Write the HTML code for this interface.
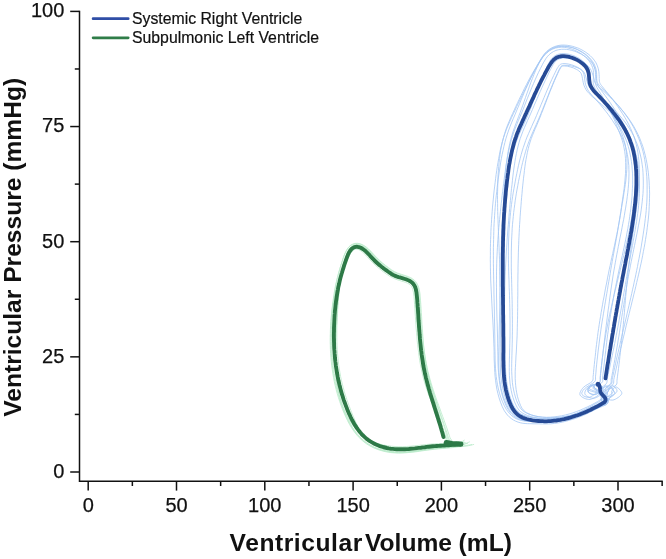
<!DOCTYPE html>
<html><head><meta charset="utf-8"><title>Ventricular Pressure-Volume Loops</title>
<style>html,body{margin:0;padding:0;background:#fff;}body{width:666px;height:559px;overflow:hidden;}</style></head>
<body>
<svg width="666" height="559" viewBox="0 0 666 559" style="display:block">
<rect width="666" height="559" fill="#fff"/>
<g fill="none" stroke="#a3c7f4" stroke-width="0.8" stroke-linejoin="round" stroke-linecap="round">
<path d="M607.3,398.7C607.1,399.4 606.9,401.9 606.4,402.9C605.8,403.9 604.9,404.1 603.9,404.7C602.9,405.4 601.6,406.1 600.4,406.8C599.3,407.4 598.1,408.1 596.9,408.7C595.7,409.4 594.5,410.0 593.3,410.6C592.1,411.2 590.9,411.8 589.7,412.4C588.5,413.0 587.3,413.6 586.0,414.2C584.8,414.7 583.5,415.3 582.3,415.8C581.0,416.3 579.8,416.8 578.5,417.3C577.2,417.8 575.9,418.2 574.6,418.7C573.4,419.1 572.1,419.5 570.7,419.9C569.4,420.3 568.1,420.7 566.8,421.0C565.5,421.4 564.2,421.7 562.8,422.0C561.5,422.3 560.1,422.5 558.8,422.8C557.4,423.0 556.1,423.2 554.7,423.4C553.4,423.5 552.0,423.7 550.6,423.8C549.3,423.9 547.9,423.9 546.5,423.9C545.2,424.0 543.8,423.9 542.4,423.9C541.0,423.9 539.6,423.8 538.2,423.8C536.8,423.8 535.4,423.8 534.0,423.8C532.6,423.8 531.1,423.8 529.7,423.7C528.2,423.7 526.7,423.7 525.1,423.5C523.6,423.4 522.0,423.2 520.5,422.8C518.9,422.4 517.2,421.9 515.7,421.2C514.2,420.5 512.6,419.6 511.2,418.5C509.8,417.5 508.5,416.2 507.4,415.0C506.3,413.7 505.3,412.3 504.4,410.9C503.6,409.5 502.9,408.0 502.2,406.5C501.6,405.1 501.0,403.6 500.5,402.2C500.0,400.7 499.5,399.3 499.1,397.9C498.6,396.4 498.2,395.0 497.9,393.6C497.5,392.1 497.2,390.7 496.9,389.3C496.6,387.9 496.4,386.4 496.2,385.0C495.9,383.6 495.7,382.2 495.6,380.8C495.4,379.4 495.2,377.9 495.1,376.5C495.0,375.1 494.9,373.7 494.8,372.4C494.7,371.0 494.6,369.6 494.5,368.2C494.5,366.8 494.4,365.4 494.4,364.1C494.3,362.7 494.3,361.3 494.2,360.0C494.2,358.6 494.2,357.3 494.1,355.9C494.1,354.6 494.1,353.2 494.1,351.9C494.0,350.6 494.0,349.2 494.0,347.9C493.9,346.6 493.9,345.3 493.8,343.9C493.8,342.6 493.8,341.3 493.7,340.0C493.7,338.6 493.6,337.3 493.5,336.0C493.5,334.7 493.4,333.3 493.4,332.0C493.3,330.7 493.2,329.3 493.2,328.0C493.1,326.7 493.0,325.4 493.0,324.0C492.9,322.7 492.8,321.4 492.8,320.0C492.7,318.7 492.6,317.4 492.5,316.0C492.5,314.7 492.4,313.4 492.3,312.0C492.3,310.7 492.2,309.4 492.1,308.0C492.0,306.7 492.0,305.4 491.9,304.0C491.8,302.7 491.7,301.4 491.7,300.0C491.6,298.7 491.5,297.4 491.5,296.0C491.4,294.7 491.3,293.3 491.3,292.0C491.2,290.7 491.1,289.3 491.1,288.0C491.0,286.7 491.0,285.3 490.9,284.0C490.8,282.6 490.8,281.3 490.7,280.0C490.7,278.6 490.7,277.3 490.6,275.9C490.6,274.6 490.5,273.2 490.5,271.9C490.5,270.6 490.5,269.2 490.4,267.9C490.4,266.5 490.4,265.2 490.4,263.8C490.4,262.5 490.4,261.1 490.3,259.8C490.3,258.4 490.3,257.1 490.4,255.8C490.4,254.4 490.4,253.1 490.4,251.7C490.4,250.4 490.4,249.0 490.4,247.7C490.5,246.3 490.5,245.0 490.5,243.6C490.6,242.3 490.6,240.9 490.6,239.6C490.7,238.2 490.7,236.9 490.8,235.5C490.8,234.2 490.9,232.8 490.9,231.5C491.0,230.1 491.1,228.8 491.1,227.4C491.2,226.1 491.3,224.7 491.4,223.4C491.5,222.0 491.5,220.7 491.6,219.3C491.7,218.0 491.8,216.6 491.9,215.3C492.0,213.9 492.1,212.5 492.2,211.2C492.3,209.8 492.4,208.5 492.5,207.1C492.7,205.8 492.8,204.4 492.9,203.1C493.0,201.7 493.1,200.4 493.3,199.0C493.4,197.7 493.5,196.3 493.7,195.0C493.8,193.6 494.0,192.3 494.1,190.9C494.3,189.6 494.4,188.2 494.6,186.9C494.7,185.5 494.9,184.1 495.1,182.8C495.2,181.4 495.4,180.1 495.6,178.7C495.7,177.4 495.9,176.0 496.1,174.7C496.3,173.3 496.5,172.0 496.7,170.6C496.9,169.3 497.1,167.9 497.3,166.5C497.5,165.2 497.7,163.8 498.0,162.4C498.2,161.1 498.4,159.7 498.7,158.3C498.9,156.9 499.2,155.6 499.5,154.2C499.7,152.8 500.0,151.4 500.3,150.0C500.7,148.6 501.0,147.2 501.3,145.9C501.7,144.5 502.0,143.1 502.4,141.7C502.8,140.3 503.2,138.9 503.6,137.5C504.1,136.1 504.5,134.7 505.0,133.4C505.5,132.0 506.0,130.6 506.5,129.2C507.1,127.9 507.6,126.5 508.2,125.2C508.7,123.9 509.3,122.6 509.9,121.3C510.4,120.0 511.0,118.8 511.6,117.5C512.2,116.3 512.8,115.0 513.3,113.8C513.9,112.6 514.5,111.4 515.1,110.2C515.6,109.0 516.2,107.8 516.7,106.6C517.3,105.4 517.9,104.2 518.4,103.0C519.0,101.9 519.6,100.7 520.2,99.5C520.7,98.3 521.3,97.1 521.9,95.9C522.5,94.7 523.0,93.5 523.6,92.3C524.2,91.1 524.8,89.9 525.4,88.7C526.0,87.5 526.6,86.3 527.2,85.1C527.8,83.8 528.4,82.6 529.0,81.4C529.7,80.2 530.3,79.0 530.9,77.8C531.6,76.6 532.2,75.4 532.9,74.1C533.5,72.9 534.2,71.7 534.9,70.5C535.6,69.2 536.3,68.0 537.0,66.8C537.7,65.5 538.4,64.3 539.1,63.0C539.9,61.7 540.7,60.4 541.6,59.0C542.5,57.6 543.5,56.1 544.8,54.7C546.0,53.3 547.5,51.8 549.2,50.6C550.9,49.4 553.0,48.3 555.0,47.6C557.1,46.9 559.2,46.6 561.2,46.4C563.2,46.3 565.2,46.4 567.1,46.6C569.0,46.9 570.8,47.3 572.5,47.8C574.3,48.4 576.0,49.0 577.6,49.8C579.2,50.6 580.8,51.5 582.3,52.5C583.8,53.5 585.3,54.5 586.6,55.7C587.9,56.9 589.2,58.2 590.3,59.6C591.5,61.1 592.6,62.7 593.4,64.4C594.2,66.0 594.7,68.0 595.1,69.7C595.4,71.4 595.4,73.2 595.5,74.7C595.5,76.3 595.3,77.7 595.3,78.9C595.2,80.2 595.1,81.2 595.2,82.1C595.3,83.1 595.4,83.8 595.7,84.7C596.0,85.6 596.4,86.5 596.9,87.5C597.4,88.4 598.0,89.5 598.7,90.5C599.3,91.6 600.1,92.8 600.8,93.9C601.5,95.0 602.2,96.2 602.9,97.4C603.6,98.6 604.3,99.8 605.0,101.0C605.7,102.2 606.4,103.5 607.0,104.7C607.7,105.9 608.3,107.1 608.9,108.4C609.6,109.6 610.2,110.9 610.8,112.1C611.4,113.4 612.0,114.6 612.5,115.8C613.1,117.1 613.6,118.3 614.2,119.6C614.7,120.8 615.2,122.0 615.8,123.3C616.3,124.5 616.8,125.7 617.2,126.9C617.7,128.1 618.2,129.3 618.7,130.5C619.1,131.7 619.6,132.9 620.0,134.0C620.4,135.2 620.9,136.3 621.3,137.5C621.7,138.6 622.1,139.8 622.4,140.9C622.8,142.1 623.1,143.2 623.4,144.4C623.6,145.6 623.9,146.7 624.1,147.9C624.3,149.1 624.5,150.3 624.7,151.5C624.9,152.7 625.0,153.9 625.2,155.1C625.3,156.2 625.4,157.5 625.5,158.7C625.5,159.9 625.6,161.1 625.6,162.3C625.7,163.5 625.7,164.7 625.7,166.0C625.7,167.2 625.7,168.4 625.6,169.7C625.6,170.9 625.5,172.1 625.5,173.4C625.4,174.6 625.3,175.9 625.2,177.1C625.1,178.4 625.0,179.6 624.9,180.9C624.8,182.1 624.6,183.4 624.5,184.7C624.4,185.9 624.2,187.2 624.1,188.5C623.9,189.7 623.7,191.0 623.6,192.3C623.4,193.5 623.2,194.8 623.0,196.1C622.9,197.4 622.7,198.6 622.5,199.9C622.3,201.2 622.1,202.5 621.9,203.7C621.7,205.0 621.5,206.3 621.4,207.6C621.2,208.9 621.0,210.1 620.8,211.4C620.6,212.7 620.4,214.0 620.2,215.2C620.0,216.5 619.8,217.8 619.6,219.1C619.4,220.3 619.2,221.6 619.0,222.9C618.8,224.2 618.6,225.5 618.4,226.7C618.2,228.0 617.9,229.3 617.7,230.6C617.5,231.9 617.3,233.1 617.1,234.4C616.8,235.7 616.6,237.0 616.4,238.3C616.2,239.6 615.9,240.9 615.7,242.1C615.5,243.4 615.2,244.7 615.0,246.0C614.8,247.3 614.6,248.6 614.3,249.9C614.1,251.2 613.9,252.5 613.6,253.8C613.4,255.1 613.2,256.4 612.9,257.7C612.7,259.0 612.5,260.3 612.2,261.6C612.0,262.9 611.8,264.2 611.5,265.6C611.3,266.9 611.1,268.2 610.8,269.5C610.6,270.8 610.4,272.1 610.2,273.5C609.9,274.8 609.7,276.1 609.5,277.4C609.2,278.7 609.0,280.1 608.8,281.4C608.6,282.7 608.4,284.0 608.1,285.4C607.9,286.7 607.7,288.0 607.5,289.3C607.2,290.6 607.0,292.0 606.8,293.3C606.6,294.6 606.4,295.9 606.1,297.3C605.9,298.6 605.7,299.9 605.5,301.2C605.3,302.6 605.0,303.9 604.8,305.2C604.6,306.5 604.4,307.9 604.2,309.2C604.0,310.5 603.7,311.8 603.5,313.2C603.3,314.5 603.1,315.8 602.9,317.1C602.7,318.5 602.5,319.8 602.2,321.1C602.0,322.4 601.8,323.8 601.6,325.1C601.4,326.4 601.2,327.7 601.0,329.1C600.8,330.4 600.7,331.7 600.5,333.0C600.3,334.4 600.1,335.7 599.9,337.0C599.7,338.4 599.6,339.7 599.4,341.0C599.2,342.3 599.0,343.7 598.9,345.0C598.7,346.3 598.5,347.6 598.4,349.0C598.2,350.3 598.1,351.6 597.9,353.0C597.8,354.3 597.6,355.6 597.5,356.9C597.3,358.3 597.2,359.6 597.0,360.9C596.9,362.3 596.8,363.6 596.6,364.9C596.5,366.2 596.4,367.6 596.2,368.9C596.1,370.2 596.0,371.5 595.9,372.9C595.7,374.2 595.7,375.3 595.5,376.8C595.3,378.3 596.3,379.9 594.5,381.8C592.6,383.8 586.5,386.6 584.4,388.8C582.3,390.9 581.2,393.1 582.0,394.5C582.8,395.9 586.7,397.8 589.2,397.3C591.6,396.8 596.3,393.4 596.8,391.5C597.2,389.6 593.4,386.0 592.0,385.8C590.6,385.5 587.0,388.4 588.2,389.8C589.4,391.1 596.0,392.2 599.2,393.7C602.4,395.2 606.1,397.2 607.3,398.7C608.5,400.2 606.9,401.9 606.4,402.9C605.8,403.9 604.3,404.4 603.9,404.7"/>
<path d="M605.2,398.3C605.1,398.9 604.8,401.1 604.4,401.9C604.0,402.6 603.6,402.3 602.7,402.8C601.9,403.2 600.4,404.0 599.2,404.6C598.1,405.2 596.9,405.9 595.7,406.4C594.5,407.0 593.3,407.6 592.1,408.2C590.9,408.7 589.7,409.3 588.5,409.8C587.3,410.4 586.1,410.9 584.8,411.4C583.6,411.9 582.4,412.4 581.1,412.9C579.9,413.4 578.7,413.8 577.4,414.3C576.2,414.7 574.9,415.2 573.6,415.6C572.4,416.0 571.1,416.4 569.8,416.8C568.6,417.1 567.3,417.5 566.0,417.8C564.7,418.1 563.5,418.5 562.2,418.7C560.9,419.0 559.6,419.3 558.3,419.5C557.0,419.8 555.7,420.0 554.4,420.2C553.1,420.4 551.8,420.6 550.4,420.7C549.1,420.8 547.8,421.0 546.5,421.0C545.1,421.1 543.8,421.2 542.5,421.2C541.1,421.3 539.8,421.3 538.4,421.3C537.1,421.3 535.7,421.3 534.3,421.4C533.0,421.4 531.6,421.4 530.1,421.4C528.7,421.3 527.3,421.3 525.8,421.2C524.4,421.0 522.9,420.9 521.5,420.5C520.0,420.2 518.5,419.7 517.1,419.1C515.7,418.5 514.3,417.7 513.0,416.7C511.7,415.8 510.5,414.7 509.5,413.5C508.4,412.3 507.4,411.0 506.5,409.7C505.7,408.4 505.0,407.0 504.3,405.7C503.6,404.3 503.0,402.9 502.4,401.5C501.8,400.1 501.3,398.7 500.8,397.4C500.4,396.0 499.9,394.6 499.5,393.2C499.1,391.8 498.7,390.4 498.4,389.0C498.1,387.6 497.8,386.2 497.5,384.8C497.2,383.4 497.0,382.0 496.8,380.6C496.6,379.2 496.4,377.8 496.2,376.5C496.1,375.1 495.9,373.7 495.8,372.3C495.7,370.9 495.6,369.5 495.5,368.2C495.4,366.8 495.3,365.4 495.3,364.0C495.2,362.7 495.2,361.3 495.1,360.0C495.1,358.6 495.1,357.3 495.1,355.9C495.0,354.6 495.0,353.2 495.0,351.9C495.0,350.6 495.0,349.2 494.9,347.9C494.9,346.6 494.9,345.3 494.9,343.9C494.9,342.6 494.9,341.3 494.8,340.0C494.8,338.6 494.8,337.3 494.8,336.0C494.8,334.6 494.7,333.3 494.7,332.0C494.7,330.7 494.7,329.3 494.7,328.0C494.6,326.7 494.6,325.3 494.6,324.0C494.6,322.7 494.5,321.3 494.5,320.0C494.5,318.7 494.5,317.4 494.4,316.0C494.4,314.7 494.4,313.4 494.4,312.0C494.3,310.7 494.3,309.4 494.3,308.0C494.3,306.7 494.2,305.3 494.2,304.0C494.2,302.7 494.1,301.3 494.1,300.0C494.1,298.7 494.1,297.3 494.0,296.0C494.0,294.7 494.0,293.3 493.9,292.0C493.9,290.6 493.9,289.3 493.9,288.0C493.8,286.6 493.8,285.3 493.8,284.0C493.7,282.6 493.7,281.3 493.7,279.9C493.7,278.6 493.6,277.3 493.6,275.9C493.6,274.6 493.6,273.2 493.5,271.9C493.5,270.5 493.5,269.2 493.5,267.9C493.5,266.5 493.5,265.2 493.4,263.8C493.4,262.5 493.4,261.2 493.4,259.8C493.4,258.5 493.4,257.1 493.4,255.8C493.4,254.4 493.4,253.1 493.4,251.7C493.4,250.4 493.4,249.1 493.4,247.7C493.4,246.4 493.5,245.0 493.5,243.7C493.5,242.3 493.5,241.0 493.6,239.6C493.6,238.3 493.6,236.9 493.7,235.6C493.7,234.3 493.7,232.9 493.8,231.6C493.8,230.2 493.9,228.9 493.9,227.5C494.0,226.2 494.1,224.8 494.1,223.5C494.2,222.1 494.3,220.8 494.4,219.4C494.4,218.1 494.5,216.7 494.6,215.4C494.7,214.1 494.8,212.7 494.9,211.4C495.0,210.0 495.1,208.7 495.2,207.3C495.3,206.0 495.4,204.6 495.5,203.3C495.7,201.9 495.8,200.6 495.9,199.2C496.0,197.9 496.2,196.6 496.3,195.2C496.5,193.9 496.6,192.5 496.8,191.2C496.9,189.8 497.1,188.5 497.2,187.1C497.4,185.8 497.6,184.4 497.7,183.1C497.9,181.7 498.1,180.4 498.2,179.1C498.4,177.7 498.6,176.4 498.8,175.0C499.0,173.7 499.2,172.3 499.4,171.0C499.6,169.6 499.8,168.3 500.0,166.9C500.2,165.6 500.4,164.2 500.6,162.9C500.9,161.5 501.1,160.2 501.3,158.8C501.6,157.4 501.8,156.1 502.1,154.7C502.4,153.3 502.7,152.0 503.0,150.6C503.3,149.2 503.6,147.9 503.9,146.5C504.2,145.1 504.5,143.7 504.9,142.4C505.3,141.0 505.6,139.6 506.0,138.3C506.4,136.9 506.9,135.5 507.3,134.2C507.8,132.8 508.2,131.4 508.7,130.1C509.2,128.7 509.7,127.4 510.2,126.1C510.7,124.7 511.2,123.4 511.8,122.1C512.3,120.9 512.8,119.6 513.4,118.3C513.9,117.0 514.4,115.8 515.0,114.6C515.5,113.3 516.0,112.1 516.5,110.9C517.0,109.7 517.5,108.4 518.1,107.2C518.6,106.0 519.1,104.8 519.6,103.6C520.1,102.3 520.6,101.1 521.1,99.9C521.6,98.7 522.1,97.5 522.7,96.2C523.2,95.0 523.7,93.8 524.2,92.6C524.8,91.3 525.3,90.1 525.8,88.9C526.4,87.6 526.9,86.4 527.5,85.2C528.0,84.0 528.6,82.7 529.2,81.5C529.7,80.2 530.3,79.0 530.9,77.8C531.5,76.5 532.1,75.3 532.7,74.1C533.3,72.8 534.0,71.6 534.6,70.3C535.3,69.1 535.9,67.9 536.6,66.6C537.3,65.3 538.0,64.1 538.7,62.8C539.5,61.5 540.2,60.1 541.2,58.7C542.1,57.3 543.1,55.8 544.4,54.4C545.6,52.9 547.1,51.4 548.9,50.2C550.7,48.9 552.8,47.8 554.9,47.1C556.9,46.4 559.2,46.1 561.2,46.0C563.3,45.9 565.2,46.1 567.1,46.3C569.0,46.6 570.8,47.1 572.6,47.6C574.3,48.1 576.0,48.8 577.7,49.6C579.4,50.3 581.0,51.2 582.5,52.2C584.0,53.1 585.5,54.2 586.9,55.3C588.3,56.5 589.6,57.7 590.8,59.2C592.0,60.6 593.2,62.2 594.1,63.9C595.0,65.6 595.6,67.6 596.1,69.4C596.5,71.2 596.6,73.0 596.7,74.6C596.8,76.1 596.7,77.6 596.7,78.8C596.7,80.0 596.6,80.9 596.7,81.7C596.8,82.6 596.9,83.2 597.2,83.9C597.5,84.7 597.9,85.4 598.4,86.3C598.9,87.1 599.6,88.1 600.3,89.1C601.0,90.0 601.8,91.1 602.6,92.2C603.4,93.2 604.2,94.3 605.0,95.4C605.9,96.5 606.7,97.7 607.5,98.8C608.3,99.9 609.1,101.0 609.9,102.2C610.6,103.3 611.4,104.5 612.2,105.6C613.0,106.8 613.7,107.9 614.5,109.1C615.3,110.2 616.0,111.4 616.7,112.6C617.5,113.8 618.2,114.9 618.9,116.1C619.6,117.3 620.4,118.5 621.0,119.6C621.7,120.8 622.4,122.0 623.1,123.2C623.8,124.4 624.4,125.6 625.1,126.7C625.7,127.9 626.3,129.1 627.0,130.3C627.6,131.5 628.2,132.7 628.8,133.9C629.4,135.1 629.9,136.4 630.5,137.6C631.0,138.8 631.5,140.1 632.0,141.3C632.5,142.5 632.9,143.8 633.4,145.1C633.8,146.3 634.2,147.6 634.6,148.9C635.0,150.2 635.3,151.5 635.6,152.8C636.0,154.1 636.3,155.4 636.6,156.7C636.9,158.0 637.1,159.3 637.4,160.6C637.6,162.0 637.8,163.3 638.0,164.6C638.2,166.0 638.4,167.3 638.5,168.7C638.7,170.0 638.8,171.4 639.0,172.8C639.1,174.1 639.2,175.5 639.2,176.8C639.3,178.2 639.4,179.6 639.4,180.9C639.5,182.3 639.5,183.7 639.5,185.0C639.5,186.4 639.5,187.8 639.5,189.2C639.5,190.5 639.4,191.9 639.4,193.3C639.3,194.6 639.3,196.0 639.2,197.4C639.1,198.7 639.0,200.1 638.9,201.5C638.8,202.8 638.7,204.2 638.6,205.5C638.4,206.9 638.3,208.2 638.2,209.6C638.0,210.9 637.8,212.2 637.7,213.6C637.5,214.9 637.3,216.3 637.1,217.6C636.9,218.9 636.8,220.2 636.6,221.6C636.4,222.9 636.1,224.2 635.9,225.5C635.7,226.9 635.5,228.2 635.3,229.5C635.1,230.8 634.9,232.1 634.6,233.5C634.4,234.8 634.2,236.1 633.9,237.4C633.7,238.7 633.5,240.0 633.2,241.3C633.0,242.7 632.8,244.0 632.5,245.3C632.3,246.6 632.0,247.9 631.8,249.2C631.5,250.5 631.3,251.8 631.1,253.1C630.8,254.4 630.6,255.7 630.3,257.0C630.1,258.3 629.8,259.6 629.6,260.9C629.4,262.2 629.1,263.5 628.9,264.9C628.6,266.2 628.4,267.5 628.2,268.8C627.9,270.1 627.7,271.4 627.4,272.7C627.2,274.0 627.0,275.3 626.7,276.6C626.5,277.9 626.3,279.2 626.0,280.5C625.8,281.8 625.6,283.2 625.4,284.5C625.1,285.8 624.9,287.1 624.7,288.4C624.4,289.7 624.2,291.0 624.0,292.3C623.8,293.6 623.5,295.0 623.3,296.3C623.1,297.6 622.9,298.9 622.6,300.2C622.4,301.5 622.2,302.8 622.0,304.2C621.7,305.5 621.5,306.8 621.3,308.1C621.0,309.4 620.8,310.7 620.6,312.0C620.3,313.4 620.1,314.7 619.9,316.0C619.6,317.3 619.4,318.6 619.2,319.9C618.9,321.2 618.7,322.5 618.5,323.9C618.2,325.2 618.0,326.5 617.7,327.8C617.5,329.1 617.2,330.4 617.0,331.7C616.7,333.0 616.5,334.4 616.2,335.7C616.0,337.0 615.7,338.3 615.5,339.6C615.2,340.9 614.9,342.2 614.7,343.5C614.4,344.8 614.2,346.1 613.9,347.4C613.6,348.7 613.4,350.0 613.1,351.3C612.8,352.7 612.5,354.0 612.3,355.3C612.0,356.6 611.7,357.9 611.4,359.2C611.2,360.5 610.9,361.8 610.6,363.1C610.3,364.4 610.1,365.7 609.8,367.0C609.5,368.3 609.2,369.6 608.9,370.9C608.7,372.2 608.4,373.5 608.1,374.8C607.8,376.1 607.6,377.2 607.3,378.7C607.0,380.2 607.4,382.0 606.3,383.7C605.1,385.3 601.6,387.1 600.4,388.7C599.1,390.2 598.2,392.0 598.7,393.0C599.3,393.9 602.0,395.1 603.7,394.6C605.4,394.1 608.6,391.4 608.9,390.0C609.3,388.5 606.7,385.7 605.6,385.7C604.6,385.6 602.7,388.4 602.7,389.7C602.6,391.0 605.0,392.1 605.4,393.5C605.9,394.9 605.4,396.9 605.2,398.3C605.1,399.7 604.8,401.1 604.4,401.9C604.0,402.6 603.0,402.6 602.7,402.8"/>
<path d="M602.3,397.7C602.2,398.2 602.0,400.1 601.9,400.5C601.7,401.0 602.0,400.1 601.3,400.4C600.7,400.7 599.1,401.7 598.0,402.4C596.8,403.0 595.7,403.7 594.6,404.3C593.4,405.0 592.3,405.6 591.2,406.2C590.0,406.8 588.8,407.5 587.7,408.1C586.5,408.7 585.3,409.2 584.2,409.8C583.0,410.4 581.8,411.0 580.6,411.5C579.4,412.0 578.2,412.6 577.0,413.1C575.8,413.6 574.5,414.1 573.3,414.6C572.1,415.0 570.9,415.5 569.6,415.9C568.4,416.4 567.1,416.8 565.9,417.2C564.6,417.6 563.3,417.9 562.1,418.3C560.8,418.6 559.5,419.0 558.2,419.2C557.0,419.5 555.7,419.8 554.4,420.0C553.1,420.3 551.8,420.5 550.4,420.7C549.1,420.9 547.8,421.0 546.5,421.1C545.1,421.2 543.8,421.3 542.5,421.4C541.1,421.4 539.8,421.4 538.4,421.5C537.1,421.5 535.7,421.5 534.3,421.5C532.9,421.5 531.5,421.4 530.1,421.3C528.7,421.3 527.3,421.2 525.9,420.9C524.5,420.7 523.1,420.5 521.7,420.1C520.3,419.7 518.8,419.2 517.5,418.5C516.2,417.8 514.9,417.0 513.7,416.0C512.5,415.1 511.4,413.9 510.5,412.8C509.5,411.6 508.6,410.3 507.8,409.0C507.1,407.7 506.4,406.4 505.8,405.0C505.2,403.7 504.6,402.3 504.1,400.9C503.6,399.5 503.2,398.2 502.7,396.8C502.3,395.4 501.9,394.1 501.6,392.7C501.2,391.3 500.9,390.0 500.6,388.6C500.3,387.2 500.1,385.8 499.9,384.5C499.6,383.1 499.4,381.7 499.3,380.4C499.1,379.0 498.9,377.6 498.8,376.2C498.7,374.9 498.6,373.5 498.5,372.2C498.4,370.8 498.3,369.4 498.2,368.1C498.1,366.7 498.1,365.4 498.0,364.0C498.0,362.6 498.0,361.3 497.9,360.0C497.9,358.6 497.9,357.3 497.9,355.9C497.8,354.6 497.8,353.2 497.8,351.9C497.8,350.6 497.7,349.3 497.7,347.9C497.7,346.6 497.7,345.3 497.6,343.9C497.6,342.6 497.6,341.3 497.6,340.0C497.5,338.6 497.5,337.3 497.5,336.0C497.4,334.6 497.4,333.3 497.4,332.0C497.3,330.6 497.3,329.3 497.3,328.0C497.2,326.6 497.2,325.3 497.2,324.0C497.1,322.7 497.1,321.3 497.0,320.0C497.0,318.7 497.0,317.3 496.9,316.0C496.9,314.7 496.9,313.3 496.8,312.0C496.8,310.7 496.8,309.3 496.7,308.0C496.7,306.7 496.7,305.3 496.7,304.0C496.6,302.6 496.6,301.3 496.6,300.0C496.6,298.6 496.5,297.3 496.5,296.0C496.5,294.6 496.5,293.3 496.5,292.0C496.5,290.6 496.5,289.3 496.5,287.9C496.4,286.6 496.4,285.3 496.4,283.9C496.4,282.6 496.4,281.3 496.5,279.9C496.5,278.6 496.5,277.2 496.5,275.9C496.5,274.6 496.5,273.2 496.5,271.9C496.6,270.5 496.6,269.2 496.6,267.9C496.6,266.5 496.7,265.2 496.7,263.8C496.7,262.5 496.8,261.2 496.8,259.8C496.9,258.5 496.9,257.2 497.0,255.8C497.0,254.5 497.1,253.1 497.2,251.8C497.2,250.5 497.3,249.1 497.4,247.8C497.5,246.4 497.5,245.1 497.6,243.8C497.7,242.4 497.8,241.1 497.9,239.7C498.0,238.4 498.1,237.1 498.2,235.7C498.3,234.4 498.4,233.1 498.5,231.7C498.6,230.4 498.7,229.1 498.8,227.7C499.0,226.4 499.1,225.0 499.2,223.7C499.3,222.4 499.5,221.0 499.6,219.7C499.7,218.4 499.8,217.0 500.0,215.7C500.1,214.4 500.2,213.0 500.4,211.7C500.5,210.4 500.7,209.0 500.8,207.7C500.9,206.4 501.1,205.0 501.2,203.7C501.4,202.4 501.5,201.0 501.7,199.7C501.8,198.4 502.0,197.1 502.1,195.7C502.3,194.4 502.4,193.1 502.6,191.7C502.8,190.4 502.9,189.1 503.1,187.7C503.3,186.4 503.4,185.1 503.6,183.8C503.8,182.4 503.9,181.1 504.1,179.8C504.3,178.4 504.4,177.1 504.6,175.8C504.8,174.4 505.0,173.1 505.2,171.8C505.4,170.5 505.5,169.1 505.7,167.8C505.9,166.5 506.1,165.1 506.3,163.8C506.5,162.5 506.8,161.1 507.0,159.8C507.2,158.5 507.4,157.1 507.7,155.8C507.9,154.5 508.2,153.1 508.5,151.8C508.7,150.5 509.0,149.2 509.3,147.8C509.6,146.5 509.9,145.2 510.3,143.9C510.6,142.5 511.0,141.2 511.3,139.9C511.7,138.6 512.1,137.3 512.5,136.0C512.9,134.6 513.4,133.3 513.8,132.0C514.3,130.7 514.8,129.5 515.3,128.2C515.8,126.9 516.3,125.6 516.8,124.4C517.3,123.1 517.9,121.8 518.4,120.6C518.9,119.3 519.4,118.1 519.9,116.9C520.5,115.6 521.0,114.4 521.5,113.2C522.0,111.9 522.5,110.7 523.0,109.5C523.5,108.2 524.0,107.0 524.5,105.8C524.9,104.5 525.4,103.3 525.9,102.1C526.4,100.9 526.9,99.6 527.4,98.4C527.9,97.2 528.4,95.9 528.9,94.7C529.4,93.5 529.9,92.2 530.4,91.0C530.9,89.8 531.4,88.5 531.9,87.3C532.4,86.1 533.0,84.8 533.5,83.6C534.0,82.3 534.6,81.1 535.1,79.9C535.7,78.6 536.2,77.4 536.8,76.1C537.4,74.9 537.9,73.6 538.5,72.4C539.1,71.1 539.7,69.9 540.4,68.6C541.0,67.4 541.6,66.1 542.3,64.8C543.0,63.5 543.6,62.2 544.5,60.9C545.3,59.5 546.1,58.1 547.2,56.8C548.3,55.5 549.6,54.1 551.0,53.1C552.5,52.0 554.3,51.0 556.0,50.4C557.7,49.8 559.7,49.5 561.4,49.3C563.2,49.1 565.0,49.3 566.7,49.4C568.5,49.6 570.2,50.0 571.8,50.4C573.5,50.8 575.1,51.4 576.7,52.0C578.3,52.7 579.9,53.4 581.4,54.2C582.9,55.0 584.3,55.9 585.7,56.9C587.1,58.0 588.4,59.0 589.6,60.3C590.9,61.6 592.1,63.0 593.0,64.6C593.9,66.1 594.7,68.0 595.2,69.6C595.8,71.3 596.0,73.1 596.2,74.6C596.5,76.2 596.5,77.6 596.6,78.8C596.8,80.0 596.9,80.9 597.1,81.6C597.3,82.4 597.5,82.9 597.9,83.5C598.3,84.2 598.8,84.8 599.4,85.5C600.0,86.2 600.8,87.0 601.6,87.8C602.4,88.7 603.4,89.6 604.3,90.5C605.2,91.5 606.2,92.4 607.2,93.4C608.1,94.4 609.1,95.4 610.1,96.4C611.0,97.4 612.0,98.4 612.9,99.5C613.9,100.5 614.8,101.5 615.7,102.6C616.7,103.6 617.6,104.7 618.5,105.8C619.4,106.9 620.3,108.0 621.2,109.1C622.1,110.2 623.0,111.3 623.9,112.5C624.7,113.6 625.6,114.8 626.4,116.0C627.3,117.1 628.1,118.3 628.9,119.5C629.7,120.7 630.4,121.9 631.2,123.2C631.9,124.4 632.7,125.7 633.4,126.9C634.1,128.2 634.7,129.5 635.4,130.8C636.0,132.1 636.7,133.4 637.2,134.8C637.8,136.1 638.4,137.4 638.9,138.8C639.4,140.1 639.9,141.5 640.4,142.9C640.9,144.2 641.3,145.6 641.7,147.0C642.1,148.4 642.5,149.8 642.9,151.2C643.2,152.6 643.6,154.0 643.9,155.4C644.2,156.8 644.5,158.2 644.7,159.6C645.0,161.0 645.2,162.4 645.4,163.9C645.6,165.3 645.8,166.7 646.0,168.1C646.2,169.5 646.3,171.0 646.4,172.4C646.6,173.8 646.7,175.3 646.8,176.7C646.9,178.1 646.9,179.5 647.0,181.0C647.0,182.4 647.1,183.8 647.1,185.2C647.1,186.7 647.2,188.1 647.1,189.5C647.1,190.9 647.1,192.3 647.1,193.8C647.1,195.2 647.0,196.6 647.0,198.0C646.9,199.4 646.8,200.8 646.8,202.2C646.7,203.6 646.6,205.0 646.5,206.4C646.4,207.7 646.3,209.1 646.2,210.5C646.1,211.9 645.9,213.3 645.8,214.6C645.6,216.0 645.5,217.4 645.3,218.7C645.2,220.1 645.0,221.4 644.8,222.8C644.7,224.2 644.5,225.5 644.3,226.9C644.1,228.2 643.9,229.6 643.7,230.9C643.5,232.2 643.3,233.6 643.1,234.9C642.9,236.3 642.7,237.6 642.5,238.9C642.3,240.3 642.1,241.6 641.8,242.9C641.6,244.2 641.4,245.6 641.2,246.9C640.9,248.2 640.7,249.5 640.5,250.8C640.2,252.1 640.0,253.5 639.7,254.8C639.5,256.1 639.2,257.4 639.0,258.7C638.7,260.0 638.5,261.3 638.2,262.6C638.0,263.9 637.7,265.2 637.5,266.5C637.2,267.8 636.9,269.1 636.7,270.4C636.4,271.7 636.1,273.0 635.9,274.3C635.6,275.6 635.3,276.9 635.1,278.2C634.8,279.5 634.5,280.8 634.2,282.1C633.9,283.4 633.7,284.7 633.4,286.0C633.1,287.3 632.8,288.5 632.5,289.8C632.2,291.1 632.0,292.4 631.7,293.7C631.4,295.0 631.1,296.3 630.8,297.6C630.5,298.9 630.2,300.2 629.9,301.5C629.6,302.8 629.3,304.1 629.0,305.4C628.7,306.7 628.4,308.0 628.1,309.3C627.8,310.6 627.5,311.9 627.2,313.2C626.9,314.5 626.6,315.8 626.3,317.1C626.0,318.4 625.7,319.7 625.4,321.0C625.1,322.3 624.8,323.6 624.5,324.9C624.1,326.2 623.8,327.5 623.5,328.8C623.2,330.1 622.9,331.4 622.6,332.7C622.3,334.0 622.0,335.3 621.7,336.6C621.4,337.9 621.1,339.2 620.8,340.5C620.5,341.8 620.2,343.1 619.9,344.4C619.6,345.7 619.3,347.0 619.0,348.3C618.7,349.6 618.4,350.9 618.1,352.2C617.8,353.5 617.5,354.8 617.2,356.1C616.9,357.3 616.6,358.6 616.3,359.9C616.0,361.2 615.7,362.5 615.5,363.8C615.2,365.1 614.9,366.4 614.6,367.7C614.3,369.0 614.1,370.3 613.8,371.6C613.5,372.9 613.3,374.2 613.0,375.5C612.7,376.8 612.5,377.9 612.2,379.4C611.9,380.9 612.4,382.9 611.2,384.4C610.1,386.0 606.7,387.0 605.3,388.6C603.9,390.2 602.3,392.8 603.0,394.1C603.8,395.5 607.5,397.2 609.8,396.7C612.2,396.2 616.6,393.0 617.1,391.1C617.5,389.3 613.9,385.8 612.5,385.6C611.2,385.3 609.7,388.3 608.8,389.6C607.9,390.8 608.1,391.8 607.1,393.2C606.0,394.5 603.1,396.5 602.3,397.7C601.4,399.0 602.0,400.1 601.9,400.5C601.7,401.0 601.4,400.4 601.3,400.4"/>
<path d="M606.5,398.6C606.3,399.2 606.0,401.5 605.4,402.4C604.9,403.3 604.2,403.2 603.3,403.7C602.3,404.2 600.9,404.9 599.7,405.5C598.5,406.1 597.4,406.7 596.1,407.3C594.9,407.9 593.7,408.4 592.5,409.0C591.3,409.5 590.1,410.1 588.8,410.6C587.6,411.1 586.4,411.6 585.1,412.1C583.9,412.6 582.6,413.1 581.4,413.5C580.1,414.0 578.9,414.4 577.6,414.9C576.3,415.3 575.1,415.7 573.8,416.1C572.5,416.5 571.2,416.8 570.0,417.2C568.7,417.5 567.4,417.8 566.1,418.1C564.8,418.4 563.5,418.7 562.2,418.9C560.9,419.2 559.6,419.4 558.3,419.6C557.0,419.8 555.7,420.0 554.4,420.1C553.1,420.2 551.7,420.4 550.4,420.4C549.1,420.5 547.8,420.6 546.5,420.6C545.1,420.6 543.8,420.6 542.5,420.6C541.2,420.5 539.8,420.4 538.5,420.4C537.2,420.3 535.8,420.3 534.5,420.2C533.2,420.1 531.8,420.0 530.4,419.9C529.1,419.7 527.7,419.6 526.4,419.3C525.0,419.1 523.7,418.8 522.4,418.4C521.1,418.0 519.8,417.5 518.6,416.9C517.4,416.3 516.2,415.5 515.1,414.6C514.0,413.7 513.0,412.7 512.1,411.6C511.2,410.5 510.4,409.3 509.7,408.1C509.0,406.8 508.3,405.5 507.7,404.2C507.2,402.9 506.6,401.5 506.1,400.2C505.7,398.9 505.2,397.6 504.8,396.2C504.4,394.9 504.0,393.6 503.7,392.2C503.3,390.9 503.0,389.5 502.7,388.2C502.4,386.8 502.2,385.5 502.0,384.2C501.8,382.8 501.6,381.5 501.4,380.1C501.2,378.8 501.1,377.4 500.9,376.1C500.8,374.7 500.7,373.4 500.6,372.0C500.5,370.7 500.5,369.3 500.4,368.0C500.3,366.7 500.3,365.3 500.3,364.0C500.2,362.6 500.2,361.3 500.2,359.9C500.2,358.6 500.2,357.3 500.2,355.9C500.2,354.6 500.2,353.3 500.2,351.9C500.2,350.6 500.2,349.3 500.2,347.9C500.3,346.6 500.3,345.3 500.3,343.9C500.3,342.6 500.3,341.3 500.3,339.9C500.3,338.6 500.3,337.3 500.3,335.9C500.4,334.6 500.4,333.3 500.4,332.0C500.4,330.6 500.4,329.3 500.4,328.0C500.4,326.6 500.5,325.3 500.5,324.0C500.5,322.6 500.5,321.3 500.5,320.0C500.5,318.6 500.6,317.3 500.6,315.9C500.6,314.6 500.6,313.3 500.6,311.9C500.6,310.6 500.7,309.3 500.7,307.9C500.7,306.6 500.7,305.3 500.7,303.9C500.7,302.6 500.8,301.3 500.8,299.9C500.8,298.6 500.8,297.3 500.8,295.9C500.8,294.6 500.8,293.2 500.9,291.9C500.9,290.6 500.9,289.2 500.9,287.9C500.9,286.6 500.9,285.2 500.9,283.9C500.9,282.6 500.9,281.2 501.0,279.9C501.0,278.6 501.0,277.2 501.0,275.9C501.0,274.5 501.0,273.2 501.0,271.9C501.0,270.5 501.0,269.2 501.0,267.9C501.0,266.5 501.0,265.2 501.0,263.9C501.0,262.5 501.0,261.2 501.0,259.9C501.0,258.5 501.0,257.2 501.1,255.9C501.1,254.5 501.1,253.2 501.1,251.8C501.1,250.5 501.2,249.2 501.2,247.8C501.2,246.5 501.3,245.2 501.3,243.8C501.3,242.5 501.4,241.2 501.4,239.8C501.5,238.5 501.5,237.2 501.6,235.8C501.6,234.5 501.7,233.2 501.8,231.8C501.8,230.5 501.9,229.2 502.0,227.8C502.0,226.5 502.1,225.2 502.2,223.8C502.3,222.5 502.4,221.2 502.5,219.8C502.6,218.5 502.6,217.2 502.7,215.9C502.9,214.5 503.0,213.2 503.1,211.9C503.2,210.5 503.3,209.2 503.4,207.9C503.6,206.6 503.7,205.2 503.8,203.9C504.0,202.6 504.1,201.3 504.3,199.9C504.4,198.6 504.6,197.3 504.7,196.0C504.9,194.6 505.1,193.3 505.2,192.0C505.4,190.7 505.6,189.3 505.8,188.0C506.0,186.7 506.2,185.4 506.4,184.1C506.6,182.8 506.8,181.4 507.0,180.1C507.2,178.8 507.5,177.5 507.7,176.2C507.9,174.9 508.2,173.6 508.4,172.2C508.7,170.9 508.9,169.6 509.2,168.3C509.5,167.0 509.7,165.7 510.0,164.4C510.3,163.1 510.6,161.8 510.9,160.5C511.2,159.2 511.5,157.9 511.8,156.6C512.2,155.3 512.5,154.1 512.8,152.8C513.2,151.5 513.6,150.2 513.9,149.0C514.3,147.7 514.7,146.5 515.1,145.2C515.6,144.0 516.0,142.7 516.4,141.5C516.9,140.2 517.3,139.0 517.8,137.8C518.3,136.6 518.8,135.3 519.3,134.1C519.8,132.9 520.4,131.7 520.9,130.5C521.5,129.3 522.0,128.1 522.6,126.9C523.2,125.7 523.7,124.5 524.3,123.3C524.9,122.1 525.4,120.8 526.0,119.6C526.5,118.4 527.0,117.2 527.6,116.0C528.1,114.7 528.6,113.5 529.1,112.3C529.6,111.0 530.1,109.8 530.6,108.6C531.1,107.3 531.6,106.1 532.0,104.9C532.5,103.6 533.0,102.4 533.4,101.1C533.9,99.9 534.3,98.7 534.8,97.4C535.2,96.2 535.7,94.9 536.2,93.7C536.6,92.4 537.1,91.2 537.5,89.9C538.0,88.7 538.4,87.4 538.9,86.2C539.4,84.9 539.8,83.7 540.3,82.4C540.8,81.2 541.3,79.9 541.8,78.7C542.3,77.4 542.8,76.1 543.3,74.9C543.8,73.6 544.4,72.3 544.9,71.1C545.5,69.8 546.0,68.5 546.6,67.3C547.2,66.0 547.8,64.7 548.5,63.4C549.2,62.2 549.9,60.9 550.7,59.8C551.6,58.7 552.5,57.6 553.7,56.7C554.8,55.8 556.1,55.1 557.4,54.5C558.8,54.0 560.3,53.8 561.7,53.6C563.2,53.5 564.7,53.6 566.2,53.8C567.7,53.9 569.2,54.3 570.7,54.7C572.1,55.1 573.6,55.6 575.0,56.2C576.4,56.8 577.8,57.6 579.1,58.3C580.4,59.1 581.6,60.0 582.7,60.9C583.9,61.9 584.9,62.9 585.9,63.9C586.8,65.0 587.6,66.2 588.3,67.4C588.9,68.6 589.3,70.0 589.6,71.3C589.9,72.6 590.0,74.0 590.1,75.4C590.2,76.8 590.1,78.2 590.2,79.5C590.2,80.9 590.3,82.2 590.5,83.4C590.7,84.6 591.1,85.8 591.6,86.9C592.1,88.0 592.8,89.0 593.5,90.1C594.2,91.1 595.0,92.1 595.8,93.2C596.7,94.2 597.5,95.2 598.4,96.2C599.2,97.2 600.1,98.3 600.9,99.3C601.7,100.4 602.6,101.4 603.4,102.5C604.2,103.6 605.1,104.6 605.9,105.7C606.7,106.8 607.5,107.9 608.3,109.0C609.1,110.0 609.8,111.1 610.6,112.2C611.4,113.4 612.1,114.5 612.9,115.6C613.6,116.7 614.3,117.8 615.1,118.9C615.8,120.0 616.5,121.2 617.1,122.3C617.8,123.4 618.5,124.6 619.1,125.7C619.8,126.8 620.4,128.0 621.0,129.1C621.6,130.3 622.2,131.4 622.8,132.6C623.3,133.7 623.9,134.9 624.4,136.0C624.9,137.2 625.4,138.3 625.9,139.5C626.3,140.7 626.7,141.9 627.2,143.0C627.6,144.2 627.9,145.4 628.3,146.6C628.6,147.8 629.0,149.1 629.3,150.3C629.6,151.5 629.9,152.7 630.1,154.0C630.4,155.2 630.6,156.4 630.8,157.7C631.1,159.0 631.2,160.2 631.4,161.5C631.6,162.8 631.7,164.0 631.9,165.3C632.0,166.6 632.1,167.9 632.2,169.2C632.3,170.5 632.4,171.8 632.5,173.1C632.5,174.4 632.6,175.7 632.6,177.0C632.6,178.3 632.6,179.6 632.6,180.9C632.6,182.2 632.6,183.5 632.6,184.9C632.5,186.2 632.5,187.5 632.4,188.8C632.4,190.2 632.3,191.5 632.2,192.8C632.2,194.1 632.1,195.5 632.0,196.8C631.9,198.1 631.7,199.4 631.6,200.8C631.5,202.1 631.4,203.4 631.2,204.7C631.1,206.1 630.9,207.4 630.8,208.7C630.6,210.0 630.5,211.3 630.3,212.6C630.1,213.9 629.9,215.3 629.7,216.6C629.6,217.9 629.4,219.2 629.2,220.5C629.0,221.8 628.7,223.1 628.5,224.4C628.3,225.7 628.1,227.0 627.9,228.3C627.6,229.6 627.4,230.9 627.1,232.2C626.9,233.5 626.6,234.8 626.4,236.1C626.1,237.4 625.9,238.7 625.6,240.0C625.3,241.2 625.1,242.5 624.8,243.8C624.5,245.1 624.3,246.4 624.0,247.7C623.7,249.0 623.4,250.3 623.1,251.6C622.8,252.9 622.6,254.2 622.3,255.5C622.0,256.8 621.7,258.1 621.4,259.3C621.1,260.6 620.8,261.9 620.5,263.2C620.3,264.5 620.0,265.8 619.7,267.1C619.4,268.4 619.1,269.7 618.8,271.0C618.6,272.3 618.3,273.6 618.0,274.9C617.7,276.3 617.4,277.6 617.2,278.9C616.9,280.2 616.6,281.5 616.4,282.8C616.1,284.1 615.8,285.4 615.6,286.7C615.3,288.0 615.1,289.3 614.8,290.7C614.5,292.0 614.3,293.3 614.0,294.6C613.8,295.9 613.6,297.2 613.3,298.5C613.1,299.9 612.8,301.2 612.6,302.5C612.4,303.8 612.2,305.1 611.9,306.5C611.7,307.8 611.5,309.1 611.3,310.4C611.0,311.7 610.8,313.1 610.6,314.4C610.4,315.7 610.2,317.0 610.0,318.3C609.8,319.7 609.6,321.0 609.4,322.3C609.2,323.6 609.0,325.0 608.8,326.3C608.6,327.6 608.5,328.9 608.3,330.3C608.1,331.6 607.9,332.9 607.7,334.2C607.6,335.6 607.4,336.9 607.2,338.2C607.0,339.6 606.9,340.9 606.7,342.2C606.6,343.5 606.4,344.9 606.2,346.2C606.1,347.5 605.9,348.8 605.8,350.2C605.6,351.5 605.4,352.8 605.3,354.1C605.1,355.5 605.0,356.8 604.8,358.1C604.7,359.4 604.5,360.8 604.4,362.1C604.2,363.4 604.1,364.7 603.9,366.1C603.8,367.4 603.6,368.7 603.5,370.0C603.3,371.3 603.2,372.7 603.0,374.0C602.9,375.3 602.8,376.4 602.6,377.9C602.3,379.4 603.7,381.6 601.6,382.9C599.5,384.3 592.5,384.6 590.2,386.0C587.9,387.5 587.0,390.4 587.8,391.8C588.6,393.3 592.5,395.2 595.0,394.7C597.5,394.2 602.2,390.8 602.7,388.8C603.2,386.9 599.3,383.3 597.9,383.0C596.4,382.7 593.4,385.5 594.0,387.0C594.6,388.6 599.7,390.4 601.7,392.3C603.8,394.2 605.8,396.9 606.5,398.6C607.1,400.2 606.0,401.5 605.4,402.4C604.9,403.3 603.6,403.5 603.3,403.7"/>
<path d="M603.8,398.0C603.7,398.6 603.5,400.6 603.2,401.2C602.9,401.8 602.8,401.2 602.0,401.6C601.3,402.0 599.8,402.9 598.6,403.5C597.5,404.1 596.3,404.8 595.1,405.4C594.0,406.0 592.8,406.6 591.6,407.1C590.4,407.7 589.2,408.3 588.0,408.8C586.8,409.3 585.6,409.9 584.4,410.4C583.2,410.9 582.0,411.4 580.7,411.9C579.5,412.3 578.3,412.8 577.0,413.2C575.8,413.7 574.5,414.1 573.3,414.5C572.0,414.8 570.8,415.2 569.5,415.6C568.2,415.9 567.0,416.2 565.7,416.5C564.4,416.8 563.2,417.1 561.9,417.4C560.6,417.6 559.3,417.8 558.0,418.0C556.8,418.2 555.5,418.4 554.2,418.5C552.9,418.7 551.6,418.8 550.3,418.9C549.0,418.9 547.7,419.0 546.4,419.0C545.1,419.0 543.8,419.0 542.5,419.0C541.2,418.9 539.9,418.9 538.7,418.7C537.4,418.6 536.1,418.5 534.8,418.3C533.5,418.1 532.2,417.9 530.9,417.7C529.6,417.4 528.3,417.1 527.1,416.8C525.9,416.4 524.7,416.0 523.7,415.5C522.6,415.0 521.5,414.5 520.6,413.9C519.6,413.3 518.8,412.5 518.0,411.7C517.2,410.9 516.4,410.0 515.7,409.0C515.0,408.0 514.4,407.0 513.8,405.9C513.2,404.7 512.6,403.5 512.1,402.3C511.6,401.1 511.2,399.9 510.7,398.6C510.3,397.4 509.9,396.1 509.5,394.9C509.1,393.6 508.8,392.3 508.5,391.1C508.2,389.8 507.9,388.5 507.6,387.3C507.4,386.0 507.2,384.7 507.0,383.4C506.8,382.1 506.6,380.8 506.4,379.6C506.3,378.3 506.1,377.0 506.0,375.7C505.9,374.4 505.8,373.1 505.7,371.8C505.6,370.5 505.5,369.1 505.5,367.8C505.4,366.5 505.3,365.2 505.3,363.9C505.2,362.6 505.2,361.2 505.2,359.9C505.2,358.6 505.1,357.3 505.1,355.9C505.1,354.6 505.1,353.3 505.1,351.9C505.0,350.6 505.0,349.3 505.0,347.9C505.0,346.6 505.0,345.3 504.9,343.9C504.9,342.6 504.9,341.3 504.9,339.9C504.9,338.6 504.8,337.3 504.8,335.9C504.8,334.6 504.8,333.3 504.7,331.9C504.7,330.6 504.7,329.3 504.7,327.9C504.7,326.6 504.6,325.2 504.6,323.9C504.6,322.6 504.6,321.2 504.6,319.9C504.6,318.6 504.6,317.2 504.6,315.9C504.5,314.6 504.5,313.2 504.5,311.9C504.5,310.6 504.5,309.2 504.5,307.9C504.5,306.6 504.5,305.2 504.5,303.9C504.5,302.6 504.6,301.2 504.6,299.9C504.6,298.5 504.6,297.2 504.6,295.9C504.6,294.5 504.7,293.2 504.7,291.9C504.7,290.5 504.7,289.2 504.8,287.9C504.8,286.5 504.8,285.2 504.9,283.9C504.9,282.5 505.0,281.2 505.0,279.9C505.0,278.5 505.1,277.2 505.1,275.9C505.2,274.5 505.2,273.2 505.3,271.9C505.4,270.5 505.4,269.2 505.5,267.9C505.5,266.5 505.6,265.2 505.7,263.9C505.7,262.5 505.8,261.2 505.9,259.9C505.9,258.6 506.0,257.2 506.1,255.9C506.2,254.6 506.3,253.2 506.3,251.9C506.4,250.6 506.5,249.3 506.6,247.9C506.7,246.6 506.8,245.3 506.9,244.0C507.0,242.6 507.0,241.3 507.1,240.0C507.2,238.7 507.3,237.3 507.4,236.0C507.5,234.7 507.6,233.4 507.7,232.0C507.8,230.7 507.9,229.4 508.0,228.1C508.1,226.8 508.2,225.4 508.4,224.1C508.5,222.8 508.6,221.5 508.7,220.2C508.8,218.8 508.9,217.5 509.0,216.2C509.1,214.9 509.2,213.6 509.3,212.3C509.4,210.9 509.6,209.6 509.7,208.3C509.8,207.0 509.9,205.7 510.0,204.4C510.1,203.1 510.3,201.7 510.4,200.4C510.5,199.1 510.6,197.8 510.8,196.5C510.9,195.2 511.0,193.9 511.1,192.6C511.3,191.3 511.4,189.9 511.5,188.6C511.7,187.3 511.8,186.0 512.0,184.7C512.1,183.4 512.2,182.1 512.4,180.8C512.5,179.5 512.7,178.2 512.8,176.8C513.0,175.5 513.2,174.2 513.3,172.9C513.5,171.6 513.7,170.3 513.8,169.0C514.0,167.7 514.2,166.4 514.4,165.1C514.6,163.8 514.8,162.5 515.0,161.2C515.2,160.0 515.4,158.7 515.6,157.4C515.9,156.1 516.1,154.8 516.4,153.6C516.6,152.3 516.9,151.0 517.2,149.8C517.5,148.5 517.8,147.3 518.1,146.0C518.4,144.8 518.8,143.5 519.1,142.3C519.5,141.1 519.8,139.8 520.2,138.6C520.6,137.4 521.1,136.2 521.5,135.0C522.0,133.8 522.4,132.6 522.9,131.3C523.4,130.1 523.9,128.9 524.4,127.7C524.9,126.5 525.5,125.3 526.0,124.1C526.5,122.8 527.1,121.6 527.6,120.4C528.2,119.2 528.7,118.0 529.3,116.7C529.8,115.5 530.3,114.3 530.9,113.1C531.4,111.8 531.9,110.6 532.5,109.4C533.0,108.2 533.5,107.0 534.0,105.8C534.6,104.6 535.1,103.3 535.6,102.1C536.1,100.9 536.6,99.7 537.2,98.5C537.7,97.3 538.2,96.1 538.7,94.9C539.3,93.7 539.8,92.5 540.3,91.3C540.9,90.1 541.4,88.9 541.9,87.7C542.5,86.5 543.0,85.3 543.6,84.0C544.1,82.8 544.7,81.6 545.3,80.4C545.8,79.2 546.4,78.0 547.0,76.8C547.5,75.6 548.1,74.3 548.7,73.1C549.3,71.9 549.9,70.7 550.5,69.5C551.1,68.3 551.7,67.1 552.4,66.0C553.0,64.9 553.6,63.8 554.3,62.9C555.0,62.0 555.7,61.2 556.5,60.5C557.2,59.9 558.0,59.4 559.0,59.0C559.9,58.6 560.9,58.3 562.1,58.2C563.2,58.0 564.4,58.0 565.7,58.1C567.0,58.1 568.3,58.3 569.7,58.5C571.0,58.7 572.4,58.9 573.8,59.2C575.2,59.6 576.6,59.9 577.9,60.4C579.3,60.9 580.6,61.4 581.9,62.0C583.2,62.6 584.5,63.3 585.7,64.1C586.8,64.9 588.0,65.9 588.9,67.0C589.9,68.1 590.7,69.4 591.4,70.8C592.0,72.1 592.5,73.7 592.9,75.1C593.4,76.4 593.6,77.9 594.0,79.1C594.3,80.3 594.6,81.3 594.9,82.2C595.3,83.1 595.7,83.7 596.3,84.4C596.8,85.1 597.4,85.7 598.1,86.5C598.9,87.2 599.7,87.9 600.6,88.7C601.5,89.5 602.6,90.4 603.6,91.2C604.5,92.1 605.6,93.0 606.6,94.0C607.6,94.9 608.6,95.8 609.6,96.8C610.6,97.8 611.6,98.7 612.6,99.7C613.6,100.7 614.6,101.7 615.6,102.7C616.5,103.8 617.5,104.8 618.5,105.8C619.4,106.9 620.4,108.0 621.3,109.1C622.2,110.1 623.1,111.2 624.0,112.4C624.9,113.5 625.8,114.6 626.7,115.8C627.5,116.9 628.4,118.1 629.2,119.3C630.0,120.5 630.9,121.7 631.6,122.9C632.4,124.1 633.2,125.4 633.9,126.6C634.7,127.9 635.4,129.2 636.0,130.5C636.7,131.8 637.4,133.1 638.0,134.4C638.6,135.8 639.2,137.1 639.8,138.5C640.4,139.8 640.9,141.2 641.4,142.6C641.9,143.9 642.4,145.3 642.9,146.7C643.3,148.1 643.7,149.5 644.1,150.9C644.5,152.3 644.9,153.7 645.2,155.1C645.6,156.6 645.9,158.0 646.2,159.4C646.5,160.8 646.8,162.3 647.0,163.7C647.3,165.1 647.5,166.6 647.7,168.0C647.9,169.4 648.1,170.9 648.3,172.3C648.5,173.8 648.6,175.2 648.7,176.6C648.9,178.1 649.0,179.5 649.1,181.0C649.2,182.4 649.3,183.9 649.3,185.3C649.4,186.7 649.5,188.2 649.5,189.6C649.5,191.1 649.5,192.5 649.6,193.9C649.6,195.3 649.5,196.8 649.5,198.2C649.5,199.6 649.5,201.0 649.4,202.4C649.4,203.8 649.3,205.2 649.2,206.6C649.2,208.0 649.1,209.4 649.0,210.8C648.9,212.2 648.8,213.6 648.7,215.0C648.5,216.4 648.4,217.8 648.3,219.1C648.1,220.5 648.0,221.9 647.8,223.2C647.6,224.6 647.5,226.0 647.3,227.3C647.1,228.7 646.9,230.0 646.8,231.4C646.6,232.7 646.4,234.1 646.2,235.4C646.0,236.8 645.8,238.1 645.5,239.5C645.3,240.8 645.1,242.1 644.9,243.5C644.7,244.8 644.4,246.1 644.2,247.4C643.9,248.8 643.7,250.1 643.4,251.4C643.2,252.7 642.9,254.0 642.7,255.3C642.4,256.7 642.2,258.0 641.9,259.3C641.6,260.6 641.4,261.9 641.1,263.2C640.8,264.5 640.5,265.8 640.2,267.1C640.0,268.4 639.7,269.6 639.4,270.9C639.1,272.2 638.8,273.5 638.5,274.8C638.2,276.1 637.9,277.4 637.6,278.7C637.3,280.0 637.0,281.2 636.7,282.5C636.4,283.8 636.1,285.1 635.8,286.4C635.5,287.7 635.2,289.0 634.9,290.3C634.6,291.6 634.2,292.9 633.9,294.1C633.6,295.4 633.3,296.7 633.0,298.0C632.7,299.3 632.4,300.6 632.0,301.9C631.7,303.2 631.4,304.5 631.1,305.8C630.8,307.1 630.4,308.4 630.1,309.7C629.8,310.9 629.5,312.2 629.2,313.5C628.8,314.8 628.5,316.1 628.2,317.4C627.9,318.7 627.6,320.0 627.3,321.3C627.0,322.6 626.6,323.9 626.3,325.2C626.0,326.5 625.7,327.8 625.4,329.1C625.1,330.4 624.8,331.7 624.5,333.0C624.1,334.3 623.8,335.6 623.5,336.9C623.2,338.2 622.9,339.5 622.6,340.8C622.3,342.1 622.0,343.4 621.7,344.7C621.4,346.0 621.0,347.2 620.7,348.5C620.4,349.8 620.1,351.1 619.8,352.4C619.5,353.7 619.2,355.0 618.9,356.3C618.6,357.6 618.3,358.9 618.0,360.2C617.8,361.5 617.5,362.8 617.2,364.1C616.9,365.4 616.6,366.7 616.3,368.0C616.0,369.3 615.7,370.6 615.5,371.9C615.2,373.2 614.9,374.5 614.6,375.8C614.3,377.1 614.1,378.2 613.8,379.7C613.5,381.2 614.3,382.7 612.8,384.7C611.2,386.6 606.3,389.4 604.6,391.3C602.9,393.2 601.9,395.1 602.6,396.2C603.3,397.4 606.5,398.9 608.5,398.4C610.5,397.9 614.4,394.9 614.8,393.2C615.1,391.6 612.0,388.5 610.8,388.3C609.6,388.2 608.1,391.2 607.5,392.3C606.9,393.4 607.8,393.7 607.2,394.7C606.5,395.6 604.5,397.0 603.8,398.0C603.2,399.1 603.5,400.6 603.2,401.2C602.9,401.8 602.2,401.5 602.0,401.6"/>
<path d="M607.9,398.8C607.7,399.5 607.3,402.0 606.6,403.0C606.0,404.0 605.0,404.3 603.9,404.8C602.9,405.4 601.5,406.0 600.3,406.5C599.1,407.1 597.9,407.6 596.6,408.2C595.4,408.7 594.1,409.2 592.9,409.7C591.6,410.2 590.4,410.7 589.1,411.2C587.9,411.6 586.6,412.1 585.3,412.5C584.0,412.9 582.8,413.4 581.5,413.8C580.2,414.2 578.9,414.5 577.6,414.9C576.3,415.2 575.0,415.6 573.7,415.9C572.4,416.2 571.2,416.5 569.9,416.8C568.6,417.0 567.3,417.3 565.9,417.5C564.6,417.7 563.3,417.9 562.0,418.1C560.7,418.3 559.4,418.4 558.1,418.6C556.8,418.7 555.5,418.8 554.2,418.8C552.9,418.9 551.6,418.9 550.3,419.0C549.0,419.0 547.7,418.9 546.4,418.9C545.1,418.8 543.8,418.8 542.6,418.6C541.3,418.5 540.0,418.4 538.7,418.2C537.4,418.0 536.1,417.8 534.9,417.5C533.6,417.3 532.3,417.0 531.1,416.6C529.9,416.3 528.6,415.9 527.5,415.5C526.4,415.1 525.3,414.6 524.3,414.1C523.3,413.6 522.4,413.1 521.6,412.4C520.7,411.8 520.0,411.1 519.3,410.4C518.7,409.6 518.0,408.7 517.4,407.8C516.9,406.9 516.3,405.8 515.8,404.8C515.3,403.7 514.8,402.6 514.3,401.4C513.9,400.2 513.5,399.0 513.1,397.8C512.7,396.6 512.4,395.4 512.0,394.1C511.7,392.9 511.4,391.7 511.2,390.4C510.9,389.2 510.7,388.0 510.5,386.7C510.3,385.5 510.2,384.2 510.0,383.0C509.9,381.7 509.8,380.5 509.7,379.2C509.6,377.9 509.5,376.7 509.4,375.4C509.4,374.1 509.3,372.8 509.3,371.6C509.3,370.3 509.3,369.0 509.3,367.7C509.3,366.4 509.3,365.1 509.3,363.8C509.3,362.5 509.3,361.2 509.4,359.9C509.4,358.6 509.5,357.3 509.5,355.9C509.5,354.6 509.6,353.3 509.6,352.0C509.7,350.6 509.7,349.3 509.7,347.9C509.8,346.6 509.8,345.3 509.8,343.9C509.9,342.6 509.9,341.3 509.9,339.9C509.9,338.6 510.0,337.2 510.0,335.9C510.0,334.6 510.0,333.2 510.0,331.9C510.0,330.5 510.0,329.2 510.0,327.9C510.0,326.5 510.0,325.2 510.0,323.9C510.0,322.5 510.0,321.2 510.0,319.9C510.0,318.5 510.0,317.2 509.9,315.8C509.9,314.5 509.9,313.2 509.9,311.8C509.9,310.5 509.8,309.2 509.8,307.8C509.8,306.5 509.7,305.2 509.7,303.8C509.7,302.5 509.6,301.2 509.6,299.8C509.6,298.5 509.5,297.2 509.5,295.8C509.4,294.5 509.4,293.2 509.4,291.8C509.3,290.5 509.3,289.2 509.2,287.8C509.2,286.5 509.1,285.2 509.1,283.8C509.0,282.5 509.0,281.2 509.0,279.8C508.9,278.5 508.9,277.2 508.8,275.9C508.8,274.5 508.7,273.2 508.7,271.9C508.7,270.5 508.6,269.2 508.6,267.9C508.6,266.5 508.5,265.2 508.5,263.9C508.5,262.6 508.4,261.2 508.4,259.9C508.4,258.6 508.4,257.2 508.4,255.9C508.4,254.6 508.4,253.3 508.4,251.9C508.4,250.6 508.4,249.3 508.4,248.0C508.4,246.6 508.5,245.3 508.5,244.0C508.5,242.7 508.6,241.3 508.6,240.0C508.6,238.7 508.7,237.4 508.8,236.0C508.8,234.7 508.9,233.4 508.9,232.1C509.0,230.8 509.1,229.4 509.2,228.1C509.3,226.8 509.4,225.5 509.5,224.2C509.6,222.8 509.7,221.5 509.8,220.2C509.9,218.9 510.0,217.6 510.2,216.3C510.3,215.0 510.4,213.6 510.6,212.3C510.7,211.0 510.9,209.7 511.0,208.4C511.2,207.1 511.3,205.8 511.5,204.5C511.7,203.2 511.9,201.9 512.0,200.6C512.2,199.3 512.4,198.0 512.6,196.7C512.8,195.4 513.0,194.1 513.2,192.8C513.4,191.5 513.7,190.2 513.9,188.9C514.1,187.6 514.3,186.3 514.6,185.0C514.8,183.7 515.0,182.4 515.3,181.1C515.5,179.8 515.8,178.5 516.0,177.3C516.3,176.0 516.5,174.7 516.8,173.4C517.1,172.1 517.3,170.8 517.6,169.6C517.9,168.3 518.2,167.0 518.4,165.8C518.7,164.5 519.0,163.3 519.3,162.0C519.6,160.8 519.9,159.5 520.2,158.3C520.5,157.1 520.9,155.9 521.2,154.6C521.5,153.4 521.9,152.2 522.2,151.0C522.6,149.8 522.9,148.6 523.3,147.5C523.7,146.3 524.1,145.1 524.5,144.0C524.9,142.8 525.3,141.7 525.7,140.5C526.1,139.4 526.6,138.2 527.0,137.1C527.5,136.0 528.0,134.8 528.5,133.7C529.0,132.5 529.5,131.3 530.0,130.2C530.5,129.0 531.1,127.8 531.6,126.6C532.1,125.4 532.7,124.2 533.2,123.0C533.8,121.8 534.3,120.5 534.9,119.3C535.4,118.1 536.0,116.8 536.5,115.6C537.0,114.4 537.5,113.2 538.0,111.9C538.6,110.7 539.1,109.5 539.6,108.3C540.1,107.1 540.6,105.9 541.1,104.6C541.6,103.4 542.1,102.2 542.6,101.0C543.1,99.8 543.6,98.6 544.1,97.4C544.6,96.2 545.1,95.0 545.6,93.8C546.1,92.6 546.6,91.4 547.1,90.2C547.6,89.0 548.1,87.8 548.7,86.6C549.2,85.4 549.7,84.2 550.2,83.0C550.8,81.8 551.3,80.6 551.9,79.3C552.4,78.1 553.0,76.9 553.6,75.7C554.1,74.5 554.7,73.3 555.3,72.2C555.8,71.0 556.4,69.9 556.9,68.9C557.5,68.0 558.0,67.1 558.5,66.4C558.9,65.7 559.3,65.3 559.7,64.9C560.0,64.6 560.3,64.4 560.7,64.2C561.2,64.0 561.7,63.8 562.4,63.7C563.2,63.6 564.1,63.6 565.0,63.6C566.0,63.7 567.1,63.8 568.2,64.0C569.3,64.2 570.4,64.5 571.5,64.8C572.6,65.1 573.8,65.5 574.8,66.0C575.9,66.4 576.9,66.9 577.9,67.5C578.8,68.0 579.7,68.6 580.4,69.1C581.1,69.7 581.7,70.3 582.3,70.9C582.8,71.6 583.2,72.2 583.5,73.1C583.8,74.0 584.1,75.0 584.3,76.2C584.5,77.3 584.6,78.7 584.8,80.2C585.0,81.6 585.2,83.2 585.6,84.7C586.1,86.2 586.7,87.7 587.4,89.1C588.1,90.5 589.0,91.7 589.9,92.9C590.8,94.0 591.7,95.1 592.7,96.1C593.6,97.1 594.5,98.1 595.4,99.1C596.3,100.1 597.2,101.0 598.0,102.0C598.9,103.0 599.8,104.0 600.6,105.0C601.5,106.0 602.3,107.0 603.2,108.1C604.0,109.1 604.8,110.1 605.7,111.2C606.5,112.2 607.3,113.3 608.1,114.3C608.9,115.4 609.6,116.4 610.4,117.5C611.1,118.6 611.9,119.6 612.6,120.7C613.3,121.8 614.0,122.9 614.7,124.0C615.4,125.0 616.1,126.1 616.7,127.2C617.4,128.3 618.0,129.4 618.6,130.5C619.2,131.6 619.8,132.7 620.4,133.8C620.9,134.9 621.5,136.0 622.0,137.2C622.5,138.3 623.0,139.4 623.4,140.5C623.8,141.7 624.3,142.8 624.7,143.9C625.0,145.1 625.4,146.3 625.7,147.4C626.1,148.6 626.4,149.8 626.6,151.0C626.9,152.2 627.2,153.4 627.4,154.6C627.6,155.8 627.8,157.0 628.0,158.2C628.2,159.4 628.3,160.7 628.4,161.9C628.6,163.1 628.7,164.4 628.8,165.6C628.8,166.9 628.9,168.1 628.9,169.4C629.0,170.7 629.0,171.9 629.0,173.2C629.0,174.5 629.0,175.8 628.9,177.0C628.9,178.3 628.9,179.6 628.8,180.9C628.7,182.2 628.6,183.5 628.5,184.8C628.4,186.1 628.3,187.3 628.2,188.6C628.1,189.9 627.9,191.2 627.8,192.5C627.6,193.8 627.5,195.1 627.3,196.4C627.1,197.7 626.9,199.0 626.8,200.3C626.6,201.6 626.4,202.9 626.2,204.2C626.0,205.5 625.8,206.8 625.6,208.1C625.4,209.4 625.1,210.7 624.9,211.9C624.7,213.2 624.5,214.5 624.3,215.8C624.0,217.1 623.8,218.4 623.6,219.7C623.3,220.9 623.1,222.2 622.8,223.5C622.6,224.8 622.4,226.1 622.1,227.3C621.9,228.6 621.6,229.9 621.4,231.2C621.1,232.5 620.9,233.8 620.6,235.0C620.4,236.3 620.1,237.6 619.8,238.9C619.6,240.2 619.3,241.5 619.1,242.8C618.8,244.1 618.6,245.3 618.3,246.6C618.1,247.9 617.8,249.2 617.6,250.5C617.3,251.8 617.1,253.1 616.8,254.4C616.6,255.7 616.3,257.0 616.1,258.3C615.8,259.6 615.6,260.9 615.4,262.2C615.1,263.5 614.9,264.9 614.7,266.2C614.4,267.5 614.2,268.8 614.0,270.1C613.8,271.4 613.6,272.7 613.3,274.1C613.1,275.4 612.9,276.7 612.7,278.0C612.5,279.4 612.3,280.7 612.1,282.0C611.9,283.3 611.7,284.6 611.5,286.0C611.3,287.3 611.1,288.6 610.9,290.0C610.8,291.3 610.6,292.6 610.4,293.9C610.2,295.3 610.0,296.6 609.8,297.9C609.7,299.2 609.5,300.6 609.3,301.9C609.1,303.2 608.9,304.6 608.8,305.9C608.6,307.2 608.4,308.6 608.2,309.9C608.1,311.2 607.9,312.5 607.7,313.9C607.6,315.2 607.4,316.5 607.2,317.9C607.0,319.2 606.9,320.5 606.7,321.9C606.5,323.2 606.4,324.5 606.2,325.8C606.0,327.2 605.9,328.5 605.7,329.8C605.5,331.2 605.4,332.5 605.2,333.8C605.1,335.2 604.9,336.5 604.7,337.8C604.6,339.1 604.4,340.5 604.3,341.8C604.1,343.1 603.9,344.5 603.8,345.8C603.6,347.1 603.5,348.4 603.3,349.8C603.2,351.1 603.0,352.4 602.9,353.8C602.7,355.1 602.6,356.4 602.4,357.7C602.2,359.1 602.1,360.4 601.9,361.7C601.8,363.0 601.6,364.4 601.5,365.7C601.3,367.0 601.2,368.3 601.0,369.6C600.9,371.0 600.7,372.3 600.5,373.6C600.4,374.9 600.3,376.1 600.1,377.6C599.8,379.0 601.1,380.9 599.1,382.6C597.1,384.2 590.4,385.4 588.1,387.4C585.7,389.4 584.1,392.6 585.1,394.4C586.1,396.2 591.0,398.7 594.1,398.2C597.2,397.7 603.1,393.7 603.7,391.4C604.3,389.1 599.4,384.9 597.7,384.4C595.9,383.9 592.4,387.0 593.1,388.4C593.8,389.9 599.5,391.4 602.0,393.1C604.5,394.9 607.1,397.2 607.9,398.8C608.7,400.5 607.3,402.0 606.6,403.0C606.0,404.0 604.4,404.5 603.9,404.8"/>
<path d="M606.2,398.5C606.0,399.1 605.7,401.4 605.2,402.3C604.7,403.1 604.1,403.0 603.2,403.5C602.2,404.0 600.8,404.7 599.6,405.3C598.4,405.9 597.2,406.4 596.0,407.0C594.8,407.5 593.5,408.0 592.3,408.6C591.1,409.1 589.8,409.6 588.6,410.0C587.3,410.5 586.1,411.0 584.8,411.4C583.6,411.8 582.3,412.3 581.0,412.7C579.8,413.1 578.5,413.4 577.2,413.8C576.0,414.2 574.7,414.5 573.4,414.8C572.1,415.1 570.8,415.4 569.5,415.7C568.3,415.9 567.0,416.2 565.7,416.4C564.4,416.6 563.1,416.8 561.8,416.9C560.5,417.1 559.2,417.2 557.9,417.3C556.7,417.4 555.4,417.5 554.1,417.6C552.8,417.6 551.5,417.7 550.2,417.6C549.0,417.6 547.7,417.6 546.4,417.5C545.1,417.5 543.9,417.4 542.6,417.2C541.3,417.1 540.1,416.9 538.8,416.7C537.6,416.5 536.3,416.3 535.1,416.0C533.8,415.7 532.6,415.4 531.4,415.0C530.2,414.6 529.1,414.2 528.0,413.8C526.9,413.3 525.9,412.9 525.1,412.3C524.2,411.8 523.4,411.3 522.7,410.7C522.0,410.1 521.5,409.5 520.9,408.8C520.3,408.1 519.8,407.3 519.3,406.5C518.8,405.6 518.3,404.7 517.9,403.7C517.4,402.7 517.0,401.6 516.5,400.5C516.1,399.4 515.7,398.2 515.4,397.0C515.0,395.8 514.7,394.7 514.4,393.5C514.1,392.3 513.8,391.1 513.6,389.9C513.3,388.7 513.1,387.5 512.9,386.3C512.7,385.0 512.6,383.8 512.4,382.6C512.3,381.4 512.2,380.2 512.1,378.9C512.0,377.7 511.9,376.4 511.9,375.2C511.8,373.9 511.8,372.7 511.7,371.4C511.7,370.2 511.7,368.9 511.7,367.6C511.7,366.3 511.7,365.1 511.7,363.8C511.7,362.5 511.8,361.2 511.8,359.9C511.8,358.6 511.9,357.3 511.9,355.9C511.9,354.6 512.0,353.3 512.0,352.0C512.1,350.6 512.1,349.3 512.1,347.9C512.2,346.6 512.2,345.3 512.2,343.9C512.2,342.6 512.3,341.2 512.3,339.9C512.3,338.6 512.3,337.2 512.3,335.9C512.4,334.5 512.4,333.2 512.4,331.9C512.4,330.5 512.4,329.2 512.4,327.9C512.4,326.5 512.4,325.2 512.4,323.8C512.4,322.5 512.4,321.2 512.4,319.8C512.4,318.5 512.4,317.2 512.3,315.8C512.3,314.5 512.3,313.1 512.3,311.8C512.3,310.5 512.3,309.1 512.2,307.8C512.2,306.5 512.2,305.1 512.2,303.8C512.1,302.5 512.1,301.1 512.1,299.8C512.0,298.5 512.0,297.1 512.0,295.8C512.0,294.5 511.9,293.1 511.9,291.8C511.9,290.5 511.8,289.1 511.8,287.8C511.8,286.5 511.7,285.1 511.7,283.8C511.6,282.5 511.6,281.2 511.6,279.8C511.6,278.5 511.5,277.2 511.5,275.8C511.5,274.5 511.4,273.2 511.4,271.9C511.4,270.5 511.4,269.2 511.3,267.9C511.3,266.5 511.3,265.2 511.3,263.9C511.3,262.6 511.3,261.2 511.3,259.9C511.3,258.6 511.3,257.3 511.3,255.9C511.3,254.6 511.3,253.3 511.3,252.0C511.3,250.7 511.3,249.3 511.4,248.0C511.4,246.7 511.4,245.4 511.5,244.0C511.5,242.7 511.5,241.4 511.6,240.1C511.6,238.8 511.7,237.5 511.8,236.1C511.8,234.8 511.9,233.5 512.0,232.2C512.1,230.9 512.1,229.6 512.2,228.2C512.3,226.9 512.4,225.6 512.5,224.3C512.6,223.0 512.8,221.7 512.9,220.4C513.0,219.1 513.1,217.8 513.3,216.4C513.4,215.1 513.5,213.8 513.7,212.5C513.8,211.2 514.0,209.9 514.2,208.6C514.3,207.3 514.5,206.0 514.7,204.7C514.8,203.4 515.0,202.1 515.2,200.8C515.4,199.5 515.6,198.2 515.8,196.9C516.0,195.7 516.2,194.4 516.4,193.1C516.6,191.8 516.9,190.5 517.1,189.2C517.3,187.9 517.5,186.6 517.8,185.4C518.0,184.1 518.3,182.8 518.5,181.5C518.8,180.2 519.0,179.0 519.3,177.7C519.5,176.4 519.8,175.1 520.1,173.9C520.3,172.6 520.6,171.3 520.9,170.1C521.1,168.8 521.4,167.6 521.7,166.3C522.0,165.1 522.3,163.8 522.6,162.6C522.9,161.4 523.2,160.2 523.5,159.0C523.8,157.7 524.1,156.6 524.5,155.4C524.8,154.2 525.1,153.0 525.5,151.8C525.8,150.7 526.2,149.5 526.5,148.4C526.9,147.2 527.3,146.1 527.7,145.0C528.1,143.8 528.5,142.7 528.9,141.6C529.3,140.5 529.7,139.4 530.2,138.3C530.6,137.2 531.1,136.1 531.6,135.0C532.1,133.8 532.6,132.7 533.1,131.5C533.6,130.4 534.1,129.2 534.7,128.0C535.2,126.8 535.8,125.6 536.3,124.4C536.8,123.2 537.4,121.9 537.9,120.7C538.4,119.5 539.0,118.2 539.5,117.0C540.0,115.8 540.5,114.5 541.0,113.3C541.5,112.1 542.0,110.8 542.5,109.6C543.0,108.4 543.5,107.2 544.0,106.0C544.5,104.7 544.9,103.5 545.4,102.3C545.9,101.1 546.4,99.9 546.9,98.7C547.3,97.5 547.8,96.3 548.3,95.1C548.8,93.8 549.2,92.6 549.7,91.4C550.2,90.2 550.7,89.0 551.2,87.8C551.7,86.6 552.2,85.4 552.7,84.2C553.2,83.0 553.7,81.8 554.2,80.6C554.7,79.4 555.2,78.1 555.8,76.9C556.3,75.7 556.9,74.5 557.4,73.4C557.9,72.2 558.4,71.1 558.9,70.1C559.3,69.2 559.8,68.4 560.1,67.8C560.4,67.2 560.7,66.9 560.9,66.6C561.1,66.3 561.1,66.1 561.4,66.0C561.6,65.8 562.0,65.6 562.6,65.5C563.1,65.4 564.0,65.3 564.8,65.3C565.7,65.3 566.8,65.3 567.8,65.4C568.9,65.5 570.0,65.7 571.1,65.9C572.2,66.1 573.4,66.4 574.4,66.7C575.5,67.0 576.6,67.4 577.6,67.8C578.6,68.2 579.6,68.6 580.4,69.1C581.3,69.6 582.0,70.1 582.6,70.7C583.3,71.3 583.8,72.0 584.3,72.8C584.8,73.7 585.3,74.8 585.6,76.0C586.0,77.2 586.3,78.6 586.7,79.9C587.0,81.3 587.4,82.8 587.9,84.1C588.4,85.4 589.1,86.7 589.9,87.8C590.6,88.9 591.6,89.9 592.5,90.8C593.4,91.8 594.5,92.6 595.5,93.5C596.5,94.3 597.6,95.2 598.6,96.0C599.6,96.8 600.7,97.7 601.7,98.6C602.8,99.4 603.8,100.3 604.8,101.2C605.9,102.1 606.9,103.0 607.9,103.9C608.9,104.8 609.9,105.7 610.9,106.7C611.9,107.6 612.9,108.6 613.9,109.5C614.9,110.5 615.9,111.5 616.8,112.5C617.8,113.5 618.7,114.5 619.7,115.6C620.6,116.6 621.5,117.7 622.4,118.7C623.3,119.8 624.1,120.9 625.0,122.0C625.8,123.1 626.6,124.2 627.4,125.4C628.2,126.5 629.0,127.7 629.7,128.9C630.5,130.1 631.2,131.3 631.8,132.5C632.5,133.7 633.2,134.9 633.8,136.2C634.4,137.5 635.0,138.7 635.5,140.0C636.1,141.3 636.6,142.6 637.1,143.9C637.6,145.2 638.0,146.5 638.5,147.9C638.9,149.2 639.3,150.5 639.6,151.9C640.0,153.2 640.3,154.6 640.6,156.0C640.9,157.3 641.2,158.7 641.5,160.1C641.7,161.4 641.9,162.8 642.1,164.2C642.3,165.6 642.5,167.0 642.7,168.4C642.8,169.8 642.9,171.2 643.0,172.6C643.1,174.0 643.2,175.4 643.2,176.8C643.3,178.2 643.3,179.6 643.3,181.0C643.4,182.4 643.4,183.8 643.3,185.1C643.3,186.5 643.3,187.9 643.2,189.3C643.1,190.7 643.0,192.1 643.0,193.5C642.9,194.9 642.7,196.3 642.6,197.6C642.5,199.0 642.4,200.4 642.2,201.8C642.1,203.1 641.9,204.5 641.7,205.9C641.6,207.2 641.4,208.6 641.2,209.9C641.0,211.3 640.8,212.6 640.6,214.0C640.3,215.3 640.1,216.6 639.9,218.0C639.7,219.3 639.4,220.6 639.2,222.0C638.9,223.3 638.7,224.6 638.4,225.9C638.2,227.3 637.9,228.6 637.7,229.9C637.4,231.2 637.2,232.5 636.9,233.9C636.6,235.2 636.4,236.5 636.1,237.8C635.8,239.1 635.6,240.4 635.3,241.7C635.0,243.0 634.8,244.3 634.5,245.6C634.2,246.9 633.9,248.2 633.7,249.5C633.4,250.9 633.1,252.2 632.9,253.5C632.6,254.8 632.3,256.1 632.1,257.4C631.8,258.7 631.5,260.0 631.3,261.3C631.0,262.6 630.8,263.9 630.5,265.2C630.3,266.5 630.0,267.8 629.8,269.1C629.5,270.4 629.3,271.7 629.0,273.0C628.8,274.3 628.5,275.6 628.3,276.9C628.1,278.2 627.8,279.5 627.6,280.8C627.4,282.1 627.2,283.4 626.9,284.8C626.7,286.1 626.5,287.4 626.3,288.7C626.1,290.0 625.8,291.3 625.6,292.6C625.4,293.9 625.2,295.3 625.0,296.6C624.8,297.9 624.6,299.2 624.4,300.5C624.2,301.8 624.0,303.2 623.8,304.5C623.5,305.8 623.3,307.1 623.1,308.4C622.9,309.7 622.7,311.1 622.5,312.4C622.3,313.7 622.1,315.0 621.9,316.3C621.7,317.7 621.5,319.0 621.3,320.3C621.1,321.6 620.9,322.9 620.7,324.2C620.5,325.6 620.3,326.9 620.1,328.2C619.9,329.5 619.7,330.8 619.5,332.2C619.3,333.5 619.1,334.8 618.9,336.1C618.7,337.4 618.4,338.7 618.2,340.0C618.0,341.4 617.8,342.7 617.6,344.0C617.4,345.3 617.1,346.6 616.9,347.9C616.7,349.2 616.5,350.5 616.2,351.9C616.0,353.2 615.8,354.5 615.5,355.8C615.3,357.1 615.1,358.4 614.8,359.7C614.6,361.0 614.4,362.3 614.1,363.6C613.9,364.9 613.7,366.2 613.4,367.6C613.2,368.9 612.9,370.2 612.7,371.5C612.5,372.8 612.2,374.1 612.0,375.4C611.7,376.7 611.5,377.8 611.2,379.3C610.9,380.8 611.8,382.7 610.2,384.3C608.7,385.9 603.6,387.1 601.9,388.7C600.1,390.4 598.9,392.9 599.6,394.2C600.4,395.6 604.0,397.3 606.4,396.8C608.7,396.3 613.1,393.1 613.5,391.2C614.0,389.4 610.4,386.0 609.1,385.7C607.7,385.5 605.7,388.4 605.4,389.7C605.1,391.1 607.1,392.2 607.3,393.6C607.4,395.1 606.5,397.1 606.2,398.5C605.9,399.9 605.7,401.4 605.2,402.3C604.7,403.1 603.5,403.3 603.2,403.5"/>
<path d="M601.3,397.6C601.3,398.0 601.1,399.8 601.0,400.1C601.0,400.4 601.4,399.3 600.8,399.6C600.2,399.8 598.6,400.9 597.5,401.6C596.4,402.2 595.3,402.8 594.1,403.5C593.0,404.1 591.8,404.7 590.7,405.3C589.5,405.9 588.4,406.5 587.2,407.0C586.0,407.6 584.8,408.1 583.6,408.6C582.5,409.2 581.3,409.7 580.1,410.2C578.9,410.7 577.6,411.1 576.4,411.6C575.2,412.0 574.0,412.5 572.8,412.9C571.5,413.3 570.3,413.6 569.1,414.0C567.8,414.3 566.6,414.7 565.3,415.0C564.1,415.3 562.8,415.5 561.6,415.8C560.3,416.0 559.1,416.3 557.8,416.4C556.5,416.6 555.3,416.8 554.0,416.9C552.7,417.0 551.5,417.1 550.2,417.2C548.9,417.3 547.7,417.3 546.4,417.3C545.1,417.3 543.9,417.3 542.6,417.2C541.3,417.1 540.1,417.0 538.8,416.8C537.6,416.6 536.3,416.3 535.1,416.0C533.8,415.7 532.6,415.3 531.4,414.9C530.3,414.5 529.1,414.0 528.1,413.5C527.1,412.9 526.1,412.4 525.3,411.8C524.5,411.2 523.8,410.6 523.2,409.9C522.6,409.3 522.2,408.6 521.8,407.9C521.3,407.2 520.9,406.4 520.6,405.6C520.2,404.7 519.8,403.8 519.5,402.8C519.1,401.8 518.7,400.8 518.4,399.7C518.0,398.6 517.7,397.5 517.4,396.3C517.2,395.2 516.9,394.0 516.7,392.8C516.4,391.6 516.3,390.5 516.1,389.3C515.9,388.1 515.8,386.9 515.7,385.7C515.5,384.6 515.5,383.4 515.4,382.2C515.3,381.0 515.3,379.8 515.2,378.6C515.2,377.4 515.2,376.2 515.2,374.9C515.2,373.7 515.2,372.5 515.2,371.2C515.3,370.0 515.3,368.8 515.4,367.5C515.4,366.2 515.5,365.0 515.6,363.7C515.6,362.4 515.7,361.1 515.8,359.9C515.9,358.6 515.9,357.3 516.0,355.9C516.1,354.6 516.2,353.3 516.3,352.0C516.4,350.6 516.4,349.3 516.5,348.0C516.6,346.6 516.7,345.3 516.7,343.9C516.8,342.6 516.8,341.2 516.9,339.9C517.0,338.5 517.0,337.2 517.1,335.9C517.1,334.5 517.2,333.2 517.2,331.8C517.2,330.5 517.3,329.2 517.3,327.8C517.4,326.5 517.4,325.1 517.4,323.8C517.4,322.5 517.5,321.1 517.5,319.8C517.5,318.4 517.5,317.1 517.6,315.8C517.6,314.4 517.6,313.1 517.6,311.7C517.6,310.4 517.6,309.1 517.7,307.7C517.7,306.4 517.7,305.1 517.7,303.7C517.7,302.4 517.7,301.1 517.7,299.7C517.7,298.4 517.7,297.1 517.8,295.7C517.8,294.4 517.8,293.1 517.8,291.7C517.8,290.4 517.8,289.1 517.8,287.8C517.8,286.4 517.8,285.1 517.8,283.8C517.8,282.4 517.9,281.1 517.9,279.8C517.9,278.5 517.9,277.1 517.9,275.8C517.9,274.5 517.9,273.2 518.0,271.8C518.0,270.5 518.0,269.2 518.0,267.9C518.0,266.6 518.1,265.2 518.1,263.9C518.1,262.6 518.1,261.3 518.2,260.0C518.2,258.6 518.2,257.3 518.3,256.0C518.3,254.7 518.3,253.4 518.4,252.1C518.4,250.8 518.5,249.4 518.5,248.1C518.6,246.8 518.6,245.5 518.7,244.2C518.7,242.9 518.8,241.6 518.8,240.3C518.9,239.0 518.9,237.7 519.0,236.3C519.1,235.0 519.1,233.7 519.2,232.4C519.3,231.1 519.3,229.8 519.4,228.5C519.5,227.2 519.6,225.9 519.6,224.6C519.7,223.3 519.8,222.0 519.9,220.7C520.0,219.4 520.1,218.1 520.1,216.8C520.2,215.5 520.3,214.2 520.4,212.9C520.5,211.7 520.6,210.4 520.7,209.1C520.8,207.8 520.9,206.5 521.0,205.2C521.1,203.9 521.2,202.6 521.3,201.3C521.4,200.0 521.5,198.8 521.6,197.5C521.7,196.2 521.8,194.9 522.0,193.6C522.1,192.3 522.2,191.0 522.3,189.8C522.4,188.5 522.6,187.2 522.7,185.9C522.8,184.6 523.0,183.3 523.1,182.1C523.2,180.8 523.4,179.5 523.5,178.2C523.7,176.9 523.8,175.7 524.0,174.4C524.1,173.1 524.3,171.9 524.4,170.6C524.6,169.3 524.7,168.1 524.9,166.8C525.1,165.6 525.3,164.3 525.4,163.1C525.6,161.9 525.8,160.7 526.0,159.5C526.2,158.2 526.5,157.0 526.7,155.9C526.9,154.7 527.2,153.5 527.4,152.3C527.7,151.1 527.9,150.0 528.2,148.8C528.5,147.7 528.8,146.5 529.1,145.4C529.4,144.3 529.8,143.2 530.1,142.0C530.5,140.9 530.8,139.8 531.2,138.7C531.6,137.6 532.1,136.5 532.5,135.3C533.0,134.2 533.4,133.1 533.9,131.9C534.4,130.7 534.9,129.5 535.4,128.3C535.9,127.2 536.5,125.9 537.0,124.7C537.5,123.5 538.0,122.2 538.5,121.0C539.0,119.7 539.6,118.5 540.1,117.2C540.5,116.0 541.0,114.8 541.5,113.5C542.0,112.3 542.5,111.1 543.0,109.8C543.4,108.6 543.9,107.4 544.4,106.1C544.9,104.9 545.3,103.7 545.8,102.5C546.3,101.3 546.7,100.1 547.2,98.8C547.7,97.6 548.1,96.4 548.6,95.2C549.1,94.0 549.6,92.8 550.0,91.6C550.5,90.4 551.0,89.2 551.5,88.0C552.0,86.8 552.5,85.5 553.0,84.3C553.5,83.1 554.0,81.9 554.5,80.7C555.0,79.5 555.6,78.3 556.1,77.1C556.6,75.9 557.2,74.7 557.7,73.6C558.2,72.4 558.8,71.3 559.2,70.4C559.7,69.5 560.1,68.7 560.5,68.1C560.8,67.6 561.0,67.3 561.2,67.0C561.4,66.7 561.3,66.7 561.5,66.5C561.8,66.4 562.1,66.2 562.6,66.1C563.1,66.0 563.9,66.0 564.8,66.0C565.6,66.0 566.6,66.1 567.6,66.3C568.6,66.5 569.6,66.7 570.6,67.0C571.7,67.3 572.7,67.6 573.7,68.0C574.6,68.4 575.6,68.9 576.4,69.4C577.3,69.8 578.0,70.3 578.7,70.8C579.3,71.3 579.8,71.6 580.2,72.1C580.6,72.6 580.9,73.0 581.3,73.8C581.6,74.5 581.8,75.3 582.1,76.5C582.3,77.6 582.5,78.9 582.8,80.4C583.1,81.8 583.4,83.6 583.9,85.2C584.5,86.7 585.2,88.4 586.1,89.8C587.0,91.2 588.0,92.4 589.1,93.5C590.1,94.6 591.2,95.6 592.2,96.5C593.3,97.4 594.3,98.3 595.4,99.1C596.4,100.0 597.4,100.8 598.4,101.7C599.4,102.6 600.4,103.4 601.4,104.3C602.4,105.2 603.4,106.1 604.4,107.0C605.4,107.9 606.4,108.8 607.4,109.7C608.3,110.6 609.3,111.6 610.2,112.5C611.2,113.5 612.1,114.5 613.0,115.4C614.0,116.4 614.8,117.4 615.7,118.4C616.6,119.5 617.4,120.5 618.3,121.5C619.1,122.6 619.9,123.6 620.7,124.7C621.5,125.8 622.2,126.9 622.9,128.0C623.6,129.1 624.3,130.2 625.0,131.4C625.6,132.5 626.2,133.7 626.8,134.9C627.4,136.0 627.9,137.2 628.4,138.4C628.9,139.6 629.4,140.8 629.9,142.1C630.3,143.3 630.7,144.5 631.1,145.8C631.5,147.0 631.9,148.2 632.2,149.5C632.5,150.8 632.8,152.0 633.1,153.3C633.4,154.6 633.6,155.9 633.8,157.2C634.1,158.5 634.2,159.8 634.4,161.1C634.6,162.4 634.7,163.7 634.9,165.0C635.0,166.3 635.1,167.6 635.2,168.9C635.2,170.3 635.3,171.6 635.3,172.9C635.4,174.2 635.4,175.6 635.4,176.9C635.4,178.2 635.4,179.6 635.3,180.9C635.3,182.3 635.3,183.6 635.2,184.9C635.1,186.3 635.1,187.6 635.0,189.0C634.9,190.3 634.8,191.6 634.7,193.0C634.6,194.3 634.4,195.6 634.3,197.0C634.2,198.3 634.0,199.7 633.9,201.0C633.7,202.3 633.6,203.6 633.4,205.0C633.3,206.3 633.1,207.6 632.9,208.9C632.7,210.3 632.5,211.6 632.4,212.9C632.2,214.2 632.0,215.5 631.8,216.8C631.6,218.2 631.3,219.5 631.1,220.8C630.9,222.1 630.7,223.4 630.4,224.7C630.2,226.0 630.0,227.3 629.7,228.6C629.5,229.9 629.2,231.2 628.9,232.5C628.7,233.8 628.4,235.1 628.1,236.4C627.9,237.7 627.6,239.0 627.3,240.3C627.0,241.6 626.7,242.8 626.4,244.1C626.1,245.4 625.8,246.7 625.5,248.0C625.2,249.3 624.9,250.6 624.6,251.9C624.3,253.2 624.0,254.5 623.7,255.7C623.4,257.0 623.1,258.3 622.7,259.6C622.4,260.9 622.1,262.2 621.8,263.5C621.5,264.8 621.2,266.1 620.8,267.4C620.5,268.6 620.2,269.9 619.9,271.2C619.6,272.5 619.2,273.8 618.9,275.1C618.6,276.4 618.3,277.7 618.0,279.0C617.6,280.3 617.3,281.6 617.0,282.9C616.7,284.2 616.4,285.5 616.1,286.8C615.7,288.1 615.4,289.4 615.1,290.7C614.8,292.0 614.5,293.3 614.2,294.6C613.9,295.9 613.6,297.2 613.3,298.5C613.0,299.8 612.7,301.1 612.4,302.5C612.1,303.8 611.8,305.1 611.5,306.4C611.2,307.7 610.9,309.0 610.6,310.3C610.3,311.6 610.0,312.9 609.7,314.2C609.5,315.5 609.2,316.8 608.9,318.2C608.7,319.5 608.4,320.8 608.1,322.1C607.9,323.4 607.6,324.7 607.4,326.0C607.1,327.4 606.9,328.7 606.6,330.0C606.4,331.3 606.2,332.6 605.9,333.9C605.7,335.3 605.5,336.6 605.3,337.9C605.0,339.2 604.8,340.5 604.6,341.9C604.4,343.2 604.2,344.5 604.0,345.8C603.8,347.2 603.6,348.5 603.4,349.8C603.3,351.1 603.1,352.4 602.9,353.8C602.7,355.1 602.6,356.4 602.4,357.7C602.2,359.1 602.1,360.4 601.9,361.7C601.8,363.0 601.6,364.4 601.5,365.7C601.4,367.0 601.2,368.3 601.1,369.7C601.0,371.0 600.8,372.3 600.7,373.6C600.6,375.0 600.6,376.1 600.4,377.6C600.2,379.1 601.0,381.1 599.4,382.6C597.8,384.1 592.5,385.1 590.7,386.7C588.9,388.3 587.9,390.7 588.6,392.0C589.3,393.2 592.7,394.9 594.9,394.4C597.1,393.9 601.3,390.7 601.8,389.0C602.2,387.2 598.8,383.9 597.5,383.7C596.2,383.5 593.7,386.3 593.9,387.7C594.2,389.1 597.9,390.5 599.1,392.1C600.4,393.8 601.0,396.2 601.3,397.6C601.6,398.9 601.1,399.8 601.0,400.1C601.0,400.4 600.9,399.7 600.8,399.6"/>
<path d="M609.0,399.0C608.7,399.8 608.2,402.4 607.5,403.5C606.7,404.5 605.5,404.9 604.3,405.5C603.2,406.1 601.9,406.6 600.6,407.1C599.3,407.6 598.1,408.0 596.8,408.5C595.5,409.0 594.3,409.5 593.0,409.9C591.7,410.3 590.4,410.8 589.1,411.2C587.8,411.6 586.5,412.0 585.3,412.4C584.0,412.8 582.7,413.1 581.4,413.5C580.1,413.8 578.8,414.2 577.5,414.5C576.2,414.8 574.9,415.1 573.6,415.4C572.3,415.7 571.0,416.0 569.7,416.2C568.4,416.5 567.1,416.7 565.8,416.9C564.5,417.1 563.2,417.3 561.9,417.5C560.6,417.6 559.3,417.8 558.0,417.9C556.7,418.1 555.4,418.2 554.2,418.3C552.9,418.4 551.6,418.4 550.3,418.5C549.0,418.5 547.7,418.5 546.4,418.5C545.1,418.5 543.8,418.5 542.6,418.5C541.3,418.4 540.0,418.4 538.7,418.3C537.4,418.2 536.1,418.1 534.8,417.9C533.5,417.8 532.2,417.6 530.9,417.4C529.7,417.2 528.4,416.9 527.2,416.6C526.0,416.3 524.8,416.0 523.7,415.5C522.5,415.1 521.5,414.6 520.5,414.0C519.5,413.4 518.6,412.8 517.7,412.0C516.9,411.2 516.1,410.3 515.3,409.3C514.6,408.3 513.9,407.3 513.2,406.1C512.6,405.0 512.0,403.8 511.5,402.6C510.9,401.4 510.4,400.2 509.9,398.9C509.4,397.7 509.0,396.4 508.6,395.1C508.2,393.9 507.8,392.6 507.5,391.3C507.1,390.0 506.8,388.8 506.5,387.5C506.3,386.2 506.0,384.9 505.8,383.6C505.6,382.3 505.3,381.0 505.2,379.7C505.0,378.4 504.8,377.1 504.7,375.8C504.6,374.5 504.4,373.1 504.3,371.8C504.2,370.5 504.2,369.2 504.1,367.9C504.0,366.6 504.0,365.2 503.9,363.9C503.9,362.6 503.8,361.2 503.8,359.9C503.8,358.6 503.8,357.3 503.8,355.9C503.7,354.6 503.7,353.3 503.7,351.9C503.7,350.6 503.7,349.3 503.7,347.9C503.7,346.6 503.7,345.3 503.7,343.9C503.7,342.6 503.7,341.3 503.7,339.9C503.7,338.6 503.7,337.3 503.7,335.9C503.7,334.6 503.7,333.3 503.7,331.9C503.6,330.6 503.6,329.3 503.6,327.9C503.6,326.6 503.6,325.3 503.6,323.9C503.6,322.6 503.6,321.3 503.6,319.9C503.6,318.6 503.6,317.2 503.6,315.9C503.6,314.6 503.6,313.2 503.6,311.9C503.6,310.6 503.6,309.2 503.6,307.9C503.6,306.6 503.6,305.2 503.6,303.9C503.6,302.6 503.6,301.2 503.6,299.9C503.6,298.6 503.6,297.2 503.6,295.9C503.6,294.6 503.6,293.2 503.6,291.9C503.6,290.6 503.6,289.2 503.5,287.9C503.5,286.5 503.5,285.2 503.5,283.9C503.5,282.5 503.5,281.2 503.5,279.9C503.5,278.5 503.5,277.2 503.5,275.9C503.5,274.5 503.5,273.2 503.5,271.9C503.5,270.5 503.5,269.2 503.5,267.9C503.5,266.5 503.5,265.2 503.5,263.9C503.5,262.5 503.5,261.2 503.5,259.9C503.5,258.5 503.5,257.2 503.5,255.9C503.5,254.5 503.5,253.2 503.5,251.9C503.5,250.5 503.5,249.2 503.4,247.9C503.4,246.5 503.4,245.2 503.4,243.9C503.4,242.5 503.4,241.2 503.4,239.9C503.4,238.6 503.4,237.2 503.3,235.9C503.3,234.6 503.3,233.2 503.3,231.9C503.3,230.6 503.3,229.2 503.3,227.9C503.3,226.6 503.3,225.2 503.3,223.9C503.3,222.6 503.3,221.2 503.3,219.9C503.3,218.6 503.3,217.2 503.4,215.9C503.4,214.6 503.4,213.2 503.4,211.9C503.4,210.6 503.5,209.2 503.5,207.9C503.5,206.6 503.6,205.2 503.6,203.9C503.6,202.6 503.7,201.2 503.7,199.9C503.8,198.6 503.8,197.2 503.9,195.9C503.9,194.5 504.0,193.2 504.1,191.9C504.1,190.5 504.2,189.2 504.3,187.9C504.4,186.5 504.5,185.2 504.6,183.9C504.7,182.5 504.7,181.2 504.9,179.9C505.0,178.5 505.1,177.2 505.2,175.9C505.3,174.5 505.4,173.2 505.5,171.8C505.7,170.5 505.8,169.2 505.9,167.8C506.1,166.5 506.2,165.2 506.4,163.8C506.6,162.5 506.7,161.1 506.9,159.8C507.1,158.4 507.3,157.1 507.5,155.8C507.7,154.4 507.9,153.1 508.1,151.7C508.4,150.4 508.6,149.1 508.9,147.7C509.2,146.4 509.4,145.1 509.7,143.7C510.0,142.4 510.4,141.0 510.7,139.7C511.1,138.4 511.4,137.0 511.8,135.7C512.2,134.4 512.6,133.1 513.0,131.7C513.5,130.4 513.9,129.1 514.4,127.8C514.9,126.5 515.3,125.2 515.8,123.9C516.3,122.6 516.8,121.4 517.3,120.1C517.8,118.8 518.3,117.6 518.7,116.3C519.2,115.0 519.7,113.8 520.2,112.5C520.6,111.3 521.1,110.1 521.5,108.8C522.0,107.6 522.4,106.3 522.9,105.1C523.3,103.8 523.7,102.6 524.2,101.3C524.6,100.0 525.1,98.8 525.5,97.5C525.9,96.3 526.4,95.0 526.8,93.8C527.3,92.5 527.7,91.2 528.2,90.0C528.6,88.7 529.1,87.4 529.5,86.2C530.0,84.9 530.5,83.6 530.9,82.3C531.4,81.1 531.9,79.8 532.4,78.5C532.9,77.2 533.4,76.0 533.9,74.7C534.5,73.4 535.0,72.1 535.5,70.8C536.1,69.5 536.6,68.2 537.2,66.9C537.8,65.6 538.4,64.3 539.0,63.0C539.7,61.6 540.4,60.2 541.2,58.8C542.1,57.3 543.0,55.7 544.2,54.2C545.4,52.7 546.9,51.1 548.6,49.8C550.4,48.5 552.6,47.2 554.7,46.5C556.8,45.7 559.1,45.3 561.2,45.1C563.3,44.9 565.3,45.1 567.2,45.3C569.2,45.5 571.1,45.9 572.9,46.4C574.7,46.9 576.5,47.5 578.3,48.2C580.0,48.9 581.7,49.8 583.3,50.7C584.9,51.7 586.5,52.7 588.0,53.9C589.5,55.0 590.9,56.3 592.3,57.8C593.6,59.3 595.0,61.0 596.0,62.8C597.0,64.7 597.8,66.8 598.3,68.7C598.8,70.7 599.0,72.6 599.1,74.3C599.3,75.9 599.2,77.4 599.2,78.5C599.3,79.6 599.2,80.4 599.3,81.0C599.4,81.7 599.5,82.0 599.7,82.6C599.9,83.2 600.2,83.7 600.7,84.5C601.2,85.2 601.8,86.0 602.6,86.9C603.3,87.8 604.2,88.8 605.0,89.9C605.8,90.9 606.7,92.0 607.6,93.0C608.5,94.1 609.3,95.2 610.2,96.3C611.0,97.4 611.9,98.5 612.8,99.6C613.6,100.7 614.4,101.8 615.3,103.0C616.1,104.1 616.9,105.3 617.7,106.4C618.5,107.6 619.3,108.8 620.1,110.0C620.9,111.1 621.7,112.3 622.4,113.5C623.2,114.7 623.9,115.9 624.7,117.2C625.4,118.4 626.1,119.6 626.8,120.9C627.4,122.1 628.1,123.3 628.8,124.6C629.4,125.9 630.0,127.1 630.6,128.4C631.2,129.7 631.8,131.0 632.3,132.3C632.8,133.6 633.3,134.9 633.8,136.2C634.3,137.5 634.7,138.8 635.1,140.2C635.5,141.5 635.9,142.8 636.2,144.2C636.5,145.5 636.8,146.9 637.1,148.2C637.4,149.6 637.6,150.9 637.9,152.3C638.1,153.6 638.3,155.0 638.4,156.3C638.6,157.7 638.7,159.1 638.9,160.4C639.0,161.8 639.1,163.2 639.1,164.5C639.2,165.9 639.3,167.3 639.3,168.6C639.3,170.0 639.3,171.4 639.3,172.7C639.3,174.1 639.3,175.5 639.3,176.8C639.2,178.2 639.2,179.6 639.1,180.9C639.0,182.3 639.0,183.7 638.9,185.0C638.8,186.4 638.7,187.8 638.6,189.1C638.4,190.5 638.3,191.8 638.2,193.2C638.0,194.5 637.9,195.9 637.8,197.3C637.6,198.6 637.5,200.0 637.3,201.3C637.1,202.6 637.0,204.0 636.8,205.3C636.6,206.7 636.5,208.0 636.3,209.3C636.1,210.7 635.9,212.0 635.8,213.3C635.6,214.7 635.4,216.0 635.2,217.3C635.0,218.6 634.9,220.0 634.7,221.3C634.5,222.6 634.3,223.9 634.1,225.3C634.0,226.6 633.8,227.9 633.6,229.2C633.4,230.6 633.2,231.9 633.0,233.2C632.8,234.5 632.7,235.8 632.5,237.1C632.3,238.5 632.1,239.8 631.9,241.1C631.7,242.4 631.6,243.7 631.4,245.1C631.2,246.4 631.0,247.7 630.9,249.0C630.7,250.3 630.5,251.6 630.3,253.0C630.2,254.3 630.0,255.6 629.8,256.9C629.7,258.2 629.5,259.6 629.3,260.9C629.2,262.2 629.0,263.5 628.8,264.8C628.7,266.2 628.5,267.5 628.4,268.8C628.2,270.1 628.1,271.5 628.0,272.8C627.8,274.1 627.7,275.4 627.5,276.8C627.4,278.1 627.3,279.4 627.2,280.7C627.0,282.1 626.9,283.4 626.8,284.7C626.7,286.1 626.5,287.4 626.4,288.7C626.3,290.0 626.2,291.4 626.1,292.7C625.9,294.0 625.8,295.4 625.7,296.7C625.6,298.0 625.5,299.4 625.4,300.7C625.3,302.0 625.2,303.4 625.0,304.7C624.9,306.0 624.8,307.4 624.7,308.7C624.6,310.0 624.5,311.4 624.4,312.7C624.2,314.0 624.1,315.4 624.0,316.7C623.9,318.0 623.8,319.4 623.6,320.7C623.5,322.0 623.4,323.3 623.3,324.7C623.1,326.0 623.0,327.3 622.9,328.7C622.7,330.0 622.6,331.3 622.5,332.6C622.3,334.0 622.2,335.3 622.1,336.6C621.9,338.0 621.8,339.3 621.7,340.6C621.5,341.9 621.4,343.3 621.3,344.6C621.1,345.9 621.0,347.2 620.8,348.6C620.7,349.9 620.5,351.2 620.4,352.5C620.2,353.9 620.1,355.2 619.9,356.5C619.8,357.8 619.6,359.1 619.5,360.5C619.3,361.8 619.2,363.1 619.0,364.4C618.8,365.7 618.7,367.0 618.5,368.4C618.4,369.7 618.2,371.0 618.0,372.3C617.9,373.6 617.7,374.9 617.5,376.2C617.3,377.5 617.2,378.7 617.0,380.2C616.7,381.7 617.6,383.5 616.0,385.2C614.4,386.8 609.1,388.1 607.1,390.0C605.2,391.9 603.4,394.9 604.3,396.6C605.3,398.3 609.9,400.6 612.8,400.1C615.7,399.6 621.2,395.8 621.8,393.6C622.3,391.4 617.8,387.4 616.2,387.0C614.5,386.6 612.5,389.8 611.8,391.0C611.1,392.3 612.3,393.2 611.9,394.5C611.4,395.9 609.7,397.6 609.0,399.0C608.2,400.5 608.2,402.4 607.5,403.5C606.7,404.5 604.9,405.2 604.3,405.5"/>
<path d="M605.9,398.4C605.7,399.1 605.5,401.3 605.0,402.2C604.5,403.0 604.0,402.8 603.0,403.3C602.1,403.8 600.7,404.6 599.5,405.2C598.4,405.8 597.2,406.4 596.0,407.0C594.8,407.6 593.6,408.1 592.4,408.7C591.2,409.3 590.0,409.8 588.7,410.4C587.5,410.9 586.3,411.4 585.1,411.9C583.8,412.4 582.6,412.9 581.3,413.4C580.1,413.9 578.8,414.3 577.6,414.7C576.3,415.2 575.0,415.6 573.8,416.0C572.5,416.4 571.2,416.8 570.0,417.1C568.7,417.5 567.4,417.8 566.1,418.2C564.8,418.5 563.5,418.8 562.2,419.0C560.9,419.3 559.6,419.6 558.3,419.8C557.0,420.0 555.7,420.2 554.4,420.4C553.1,420.6 551.8,420.7 550.4,420.8C549.1,420.9 547.8,421.0 546.5,421.1C545.1,421.1 543.8,421.2 542.5,421.2C541.1,421.2 539.8,421.1 538.5,421.1C537.1,421.1 535.8,421.0 534.4,421.0C533.0,420.9 531.6,420.9 530.3,420.7C528.9,420.6 527.5,420.5 526.1,420.3C524.7,420.0 523.3,419.8 522.0,419.4C520.6,418.9 519.3,418.4 518.0,417.8C516.7,417.1 515.5,416.3 514.3,415.4C513.2,414.5 512.1,413.4 511.2,412.3C510.2,411.2 509.3,409.9 508.6,408.6C507.8,407.4 507.1,406.0 506.5,404.7C505.9,403.4 505.3,402.0 504.8,400.7C504.2,399.3 503.8,398.0 503.3,396.6C502.9,395.3 502.5,393.9 502.1,392.6C501.8,391.2 501.4,389.9 501.1,388.5C500.9,387.1 500.6,385.8 500.4,384.4C500.1,383.0 499.9,381.7 499.8,380.3C499.6,378.9 499.4,377.6 499.3,376.2C499.2,374.8 499.1,373.5 499.0,372.1C498.9,370.8 498.9,369.4 498.8,368.0C498.8,366.7 498.7,365.3 498.7,364.0C498.7,362.6 498.7,361.3 498.7,359.9C498.7,358.6 498.7,357.3 498.7,355.9C498.8,354.6 498.8,353.3 498.8,351.9C498.8,350.6 498.9,349.3 498.9,347.9C498.9,346.6 498.9,345.3 499.0,343.9C499.0,342.6 499.0,341.3 499.1,339.9C499.1,338.6 499.1,337.3 499.1,336.0C499.2,334.6 499.2,333.3 499.2,332.0C499.3,330.6 499.3,329.3 499.3,328.0C499.3,326.6 499.4,325.3 499.4,324.0C499.4,322.6 499.4,321.3 499.5,320.0C499.5,318.6 499.5,317.3 499.5,316.0C499.6,314.6 499.6,313.3 499.6,312.0C499.6,310.6 499.6,309.3 499.7,308.0C499.7,306.6 499.7,305.3 499.7,303.9C499.7,302.6 499.7,301.3 499.7,299.9C499.7,298.6 499.7,297.3 499.7,295.9C499.8,294.6 499.8,293.3 499.8,291.9C499.8,290.6 499.8,289.3 499.8,287.9C499.8,286.6 499.7,285.2 499.7,283.9C499.7,282.6 499.7,281.2 499.7,279.9C499.7,278.6 499.7,277.2 499.7,275.9C499.7,274.6 499.7,273.2 499.6,271.9C499.6,270.5 499.6,269.2 499.6,267.9C499.6,266.5 499.6,265.2 499.6,263.9C499.5,262.5 499.5,261.2 499.5,259.8C499.4,258.5 499.4,257.2 499.4,255.8C499.3,254.5 499.3,253.2 499.2,251.8C499.2,250.5 499.1,249.1 499.1,247.8C499.0,246.5 499.0,245.1 498.9,243.8C498.9,242.5 498.8,241.1 498.8,239.8C498.7,238.4 498.7,237.1 498.6,235.7C498.5,234.4 498.5,233.1 498.4,231.7C498.4,230.4 498.3,229.0 498.3,227.7C498.2,226.3 498.2,225.0 498.1,223.7C498.0,222.3 498.0,221.0 498.0,219.6C497.9,218.3 497.9,216.9 497.8,215.6C497.8,214.2 497.7,212.9 497.7,211.5C497.7,210.2 497.6,208.8 497.6,207.5C497.6,206.1 497.6,204.8 497.6,203.4C497.5,202.1 497.5,200.7 497.5,199.4C497.5,198.0 497.5,196.7 497.5,195.3C497.5,194.0 497.6,192.6 497.6,191.2C497.6,189.9 497.6,188.5 497.7,187.2C497.7,185.8 497.7,184.5 497.8,183.1C497.8,181.7 497.9,180.4 497.9,179.0C498.0,177.7 498.1,176.3 498.1,174.9C498.2,173.6 498.3,172.2 498.4,170.9C498.5,169.5 498.6,168.1 498.7,166.7C498.8,165.4 498.9,164.0 499.1,162.6C499.2,161.2 499.4,159.9 499.5,158.5C499.7,157.1 499.9,155.7 500.1,154.3C500.3,152.9 500.5,151.5 500.7,150.1C501.0,148.7 501.2,147.3 501.5,145.9C501.8,144.5 502.1,143.1 502.4,141.7C502.8,140.3 503.1,138.9 503.5,137.5C503.9,136.1 504.3,134.7 504.7,133.3C505.2,131.9 505.6,130.5 506.1,129.1C506.6,127.7 507.1,126.3 507.6,125.0C508.2,123.7 508.7,122.3 509.3,121.0C509.8,119.7 510.4,118.5 510.9,117.2C511.5,115.9 512.1,114.7 512.6,113.5C513.2,112.3 513.7,111.1 514.3,109.9C514.8,108.7 515.4,107.5 515.9,106.3C516.5,105.1 517.1,103.9 517.6,102.7C518.2,101.5 518.7,100.3 519.3,99.1C519.9,97.9 520.4,96.7 521.0,95.5C521.6,94.3 522.2,93.1 522.8,91.9C523.3,90.7 523.9,89.5 524.5,88.3C525.1,87.1 525.8,85.9 526.4,84.7C527.0,83.5 527.6,82.3 528.3,81.0C528.9,79.8 529.5,78.6 530.2,77.4C530.9,76.2 531.5,75.0 532.2,73.8C532.9,72.6 533.6,71.4 534.3,70.2C535.1,69.0 535.8,67.8 536.5,66.6C537.3,65.3 538.0,64.1 538.8,62.9C539.7,61.6 540.5,60.3 541.5,58.9C542.5,57.6 543.5,56.1 544.8,54.8C546.1,53.4 547.6,51.9 549.4,50.8C551.1,49.7 553.2,48.7 555.2,48.1C557.2,47.5 559.3,47.3 561.3,47.2C563.3,47.2 565.1,47.4 566.9,47.7C568.7,48.1 570.5,48.6 572.2,49.2C573.8,49.8 575.5,50.5 577.0,51.3C578.6,52.1 580.1,53.0 581.5,54.0C582.9,55.0 584.3,56.0 585.5,57.2C586.8,58.4 588.0,59.6 589.0,60.9C590.0,62.3 591.0,63.8 591.7,65.3C592.5,66.9 593.0,68.6 593.3,70.2C593.6,71.8 593.6,73.5 593.6,75.0C593.6,76.5 593.4,77.9 593.3,79.2C593.3,80.5 593.1,81.6 593.2,82.7C593.3,83.8 593.5,84.7 593.9,85.7C594.2,86.7 594.7,87.7 595.3,88.7C595.8,89.7 596.5,90.8 597.3,91.8C598.0,92.9 598.8,94.0 599.6,95.1C600.3,96.2 601.1,97.3 601.9,98.4C602.7,99.5 603.5,100.6 604.2,101.7C605.0,102.9 605.7,104.0 606.5,105.1C607.2,106.3 608.0,107.4 608.7,108.6C609.4,109.7 610.1,110.9 610.9,112.1C611.6,113.2 612.2,114.4 612.9,115.5C613.6,116.7 614.2,117.9 614.9,119.0C615.5,120.2 616.2,121.4 616.8,122.6C617.4,123.7 617.9,124.9 618.5,126.1C619.1,127.3 619.6,128.5 620.1,129.6C620.6,130.8 621.1,132.0 621.6,133.2C622.1,134.4 622.5,135.5 622.9,136.7C623.3,137.9 623.7,139.1 624.0,140.3C624.4,141.4 624.7,142.6 625.0,143.8C625.2,145.0 625.5,146.2 625.7,147.4C625.9,148.6 626.1,149.9 626.2,151.1C626.4,152.3 626.5,153.5 626.6,154.7C626.7,156.0 626.8,157.2 626.9,158.4C626.9,159.6 627.0,160.9 627.0,162.1C627.0,163.3 627.0,164.6 626.9,165.8C626.9,167.1 626.9,168.3 626.8,169.6C626.7,170.8 626.6,172.1 626.5,173.3C626.4,174.6 626.3,175.8 626.2,177.1C626.1,178.4 625.9,179.6 625.8,180.9C625.6,182.1 625.4,183.4 625.3,184.7C625.1,185.9 624.9,187.2 624.7,188.5C624.5,189.8 624.3,191.0 624.1,192.3C623.9,193.6 623.7,194.8 623.5,196.1C623.3,197.4 623.1,198.7 622.9,200.0C622.7,201.2 622.4,202.5 622.2,203.8C622.0,205.1 621.8,206.3 621.6,207.6C621.4,208.9 621.2,210.2 621.0,211.4C620.8,212.7 620.6,214.0 620.4,215.3C620.2,216.5 619.9,217.8 619.7,219.1C619.5,220.4 619.3,221.6 619.0,222.9C618.8,224.2 618.6,225.5 618.3,226.7C618.1,228.0 617.8,229.3 617.6,230.6C617.3,231.8 617.1,233.1 616.8,234.4C616.5,235.7 616.3,236.9 616.0,238.2C615.7,239.5 615.5,240.8 615.2,242.0C614.9,243.3 614.6,244.6 614.4,245.9C614.1,247.2 613.8,248.5 613.5,249.7C613.2,251.0 613.0,252.3 612.7,253.6C612.4,254.9 612.1,256.2 611.8,257.5C611.6,258.8 611.3,260.1 611.0,261.4C610.7,262.7 610.4,264.0 610.2,265.3C609.9,266.6 609.6,267.9 609.3,269.2C609.1,270.5 608.8,271.8 608.5,273.2C608.3,274.5 608.0,275.8 607.7,277.1C607.5,278.4 607.2,279.7 607.0,281.0C606.7,282.4 606.4,283.7 606.2,285.0C605.9,286.3 605.7,287.6 605.4,288.9C605.2,290.3 604.9,291.6 604.7,292.9C604.5,294.2 604.2,295.5 604.0,296.9C603.7,298.2 603.5,299.5 603.2,300.8C603.0,302.2 602.8,303.5 602.5,304.8C602.3,306.1 602.1,307.4 601.8,308.8C601.6,310.1 601.4,311.4 601.1,312.7C600.9,314.1 600.7,315.4 600.5,316.7C600.2,318.0 600.0,319.4 599.8,320.7C599.6,322.0 599.4,323.3 599.2,324.7C598.9,326.0 598.7,327.3 598.6,328.6C598.4,330.0 598.2,331.3 598.0,332.6C597.8,334.0 597.6,335.3 597.5,336.6C597.3,337.9 597.1,339.3 597.0,340.6C596.8,341.9 596.6,343.3 596.5,344.6C596.3,345.9 596.2,347.3 596.0,348.6C595.9,349.9 595.7,351.3 595.6,352.6C595.4,353.9 595.3,355.2 595.2,356.6C595.0,357.9 594.9,359.2 594.7,360.6C594.6,361.9 594.5,363.2 594.3,364.6C594.2,365.9 594.1,367.2 593.9,368.5C593.8,369.9 593.7,371.2 593.5,372.5C593.4,373.8 593.4,375.0 593.1,376.5C592.9,378.0 593.7,379.6 592.1,381.5C590.5,383.3 585.4,385.2 583.4,387.4C581.4,389.7 579.0,393.1 580.1,395.1C581.2,397.1 586.6,399.9 590.0,399.4C593.5,398.9 600.0,394.6 600.6,392.1C601.3,389.6 595.9,385.0 594.0,384.4C592.1,383.8 588.2,387.0 589.0,388.4C589.9,389.9 596.2,391.3 599.0,392.9C601.8,394.6 604.9,396.9 605.9,398.4C606.9,400.0 605.5,401.3 605.0,402.2C604.5,403.0 603.4,403.1 603.0,403.3"/>
</g>
<g fill="none" stroke="#b6eac7" stroke-width="0.75" stroke-linejoin="round" stroke-linecap="round">
<path d="M465.3,442.6C463.6,442.7 457.6,444.0 455.2,443.4C452.8,442.8 451.8,440.3 450.8,439.0C449.8,437.7 449.7,436.7 449.3,435.5C448.8,434.3 448.5,433.0 448.0,431.7C447.6,430.4 447.2,429.2 446.8,427.9C446.3,426.6 445.9,425.4 445.4,424.1C445.0,422.8 444.5,421.6 444.1,420.3C443.6,419.0 443.2,417.8 442.7,416.5C442.3,415.3 441.8,414.0 441.3,412.7C440.9,411.5 440.4,410.2 440.0,409.0C439.5,407.7 439.0,406.5 438.6,405.2C438.1,403.9 437.7,402.7 437.2,401.4C436.8,400.2 436.3,398.9 435.9,397.7C435.5,396.4 435.0,395.1 434.6,393.9C434.2,392.6 433.7,391.4 433.3,390.1C432.9,388.9 432.5,387.6 432.1,386.3C431.7,385.1 431.3,383.8 431.0,382.6C430.6,381.3 430.2,380.0 429.9,378.8C429.5,377.5 429.2,376.2 428.9,375.0C428.5,373.7 428.2,372.4 427.9,371.2C427.6,369.9 427.3,368.6 427.1,367.3C426.8,366.1 426.5,364.8 426.3,363.5C426.0,362.2 425.8,360.9 425.6,359.7C425.3,358.4 425.1,357.1 424.9,355.8C424.7,354.5 424.5,353.2 424.3,351.9C424.1,350.6 424.0,349.3 423.8,348.0C423.6,346.7 423.5,345.4 423.3,344.1C423.2,342.8 423.0,341.5 422.9,340.2C422.7,338.9 422.6,337.5 422.5,336.2C422.4,334.9 422.2,333.6 422.1,332.3C422.0,331.0 421.9,329.6 421.8,328.3C421.7,327.0 421.6,325.7 421.5,324.3C421.4,323.0 421.3,321.7 421.2,320.3C421.1,319.0 421.0,317.7 420.9,316.3C420.8,315.0 420.7,313.7 420.6,312.3C420.5,311.0 420.5,309.6 420.4,308.3C420.3,306.9 420.2,305.6 420.1,304.3C420.0,302.9 419.9,301.6 419.8,300.2C419.7,298.9 419.6,297.5 419.5,296.1C419.4,294.8 419.2,293.4 419.0,292.0C418.8,290.6 418.6,289.2 418.2,287.9C417.8,286.6 417.3,285.2 416.6,284.0C415.8,282.8 414.9,281.6 413.9,280.6C412.8,279.6 411.4,278.8 410.1,278.1C408.7,277.4 407.2,276.9 405.8,276.4C404.4,275.8 402.9,275.4 401.5,275.0C400.1,274.5 398.7,274.1 397.5,273.6C396.3,273.1 395.2,272.6 394.2,272.0C393.1,271.5 392.2,270.8 391.1,270.1C390.1,269.4 389.2,268.7 388.2,267.9C387.1,267.2 386.1,266.4 385.1,265.6C384.1,264.8 383.1,264.0 382.2,263.2C381.2,262.4 380.2,261.6 379.3,260.7C378.3,259.8 377.4,258.9 376.5,258.0C375.6,257.1 374.8,256.1 373.9,255.1C373.0,254.2 372.1,253.1 371.1,252.1C370.1,251.0 369.1,249.9 367.9,248.9C366.7,247.9 365.5,246.9 364.1,246.0C362.8,245.2 361.3,244.4 359.8,244.0C358.2,243.7 356.5,243.5 354.9,243.8C353.4,244.0 351.8,244.8 350.5,245.7C349.3,246.6 348.3,247.9 347.4,249.2C346.5,250.5 345.8,251.9 345.1,253.3C344.5,254.8 344.0,256.3 343.4,257.7C342.9,259.1 342.5,260.6 342.0,261.9C341.6,263.3 341.1,264.6 340.7,265.9C340.3,267.2 339.9,268.5 339.5,269.8C339.2,271.0 338.8,272.3 338.4,273.5C338.1,274.8 337.8,276.1 337.4,277.3C337.1,278.6 336.8,279.9 336.5,281.2C336.2,282.5 335.9,283.8 335.6,285.1C335.4,286.4 335.1,287.7 334.9,289.0C334.6,290.3 334.4,291.7 334.2,293.0C334.0,294.3 333.8,295.7 333.6,297.0C333.4,298.3 333.2,299.7 333.0,301.0C332.9,302.3 332.7,303.7 332.5,305.0C332.4,306.4 332.3,307.7 332.1,309.1C332.0,310.4 331.9,311.8 331.8,313.2C331.7,314.5 331.6,315.9 331.5,317.2C331.4,318.6 331.3,319.9 331.3,321.3C331.2,322.6 331.1,324.0 331.1,325.3C331.0,326.7 331.0,328.0 331.0,329.4C330.9,330.8 330.9,332.1 330.9,333.4C330.9,334.8 330.9,336.1 330.9,337.5C330.9,338.8 330.9,340.2 330.9,341.5C330.9,342.9 330.9,344.2 331.0,345.6C331.0,346.9 331.1,348.3 331.1,349.6C331.2,350.9 331.3,352.3 331.4,353.6C331.4,355.0 331.5,356.3 331.6,357.6C331.8,359.0 331.9,360.3 332.0,361.6C332.1,363.0 332.3,364.3 332.4,365.7C332.6,367.0 332.8,368.3 333.0,369.6C333.1,371.0 333.3,372.3 333.6,373.6C333.8,375.0 334.0,376.3 334.2,377.6C334.5,378.9 334.7,380.3 335.0,381.6C335.3,382.9 335.6,384.2 335.9,385.5C336.2,386.9 336.5,388.2 336.8,389.5C337.1,390.8 337.5,392.1 337.9,393.4C338.2,394.7 338.6,396.1 339.0,397.4C339.4,398.7 339.8,400.0 340.2,401.3C340.7,402.6 341.1,403.9 341.6,405.2C342.1,406.5 342.6,407.8 343.1,409.0C343.6,410.3 344.1,411.6 344.6,412.9C345.2,414.2 345.7,415.5 346.3,416.8C346.9,418.0 347.5,419.3 348.2,420.6C348.8,421.8 349.5,423.1 350.1,424.3C350.8,425.5 351.6,426.7 352.3,427.9C353.1,429.1 353.9,430.3 354.7,431.4C355.5,432.5 356.4,433.7 357.3,434.7C358.2,435.8 359.1,436.8 360.1,437.8C361.1,438.8 362.2,439.8 363.2,440.7C364.3,441.6 365.4,442.5 366.6,443.3C367.8,444.1 369.0,444.9 370.2,445.5C371.4,446.2 372.7,446.9 374.0,447.5C375.3,448.1 376.6,448.6 377.9,449.1C379.3,449.6 380.6,450.0 382.0,450.4C383.3,450.8 384.7,451.1 386.1,451.4C387.5,451.7 388.9,451.9 390.3,452.1C391.7,452.3 393.1,452.4 394.5,452.5C395.9,452.6 397.3,452.7 398.7,452.7C400.1,452.7 401.5,452.7 402.8,452.6C404.2,452.6 405.6,452.5 407.0,452.4C408.3,452.3 409.7,452.1 411.1,452.0C412.4,451.8 413.8,451.7 415.1,451.5C416.5,451.3 417.8,451.1 419.1,450.9C420.5,450.7 421.8,450.5 423.1,450.3C424.4,450.2 425.8,450.0 427.1,449.8C428.4,449.6 429.7,449.4 431.0,449.3C432.3,449.1 433.6,448.9 434.9,448.8C436.2,448.7 437.5,448.5 438.8,448.4C440.1,448.3 441.4,448.2 442.7,448.1C444.1,447.9 445.4,447.8 446.7,447.7C448.0,447.6 449.3,447.5 450.7,447.3C452.0,447.2 453.3,447.0 454.7,446.9C456.0,446.7 456.9,446.6 458.7,446.4C460.4,446.2 463.0,445.9 465.2,445.6C467.3,445.3 470.6,444.8 471.7,444.6"/>
<path d="M458.9,442.3C457.6,442.5 453.3,443.8 451.6,443.4C449.8,443.0 449.1,440.9 448.4,439.6C447.6,438.4 447.3,437.4 446.9,436.1C446.4,434.9 446.2,433.6 445.8,432.3C445.5,431.0 445.1,429.8 444.7,428.5C444.3,427.2 443.9,425.9 443.5,424.6C443.1,423.4 442.8,422.1 442.3,420.8C441.9,419.6 441.5,418.3 441.1,417.0C440.7,415.7 440.3,414.5 439.9,413.2C439.5,411.9 439.1,410.7 438.6,409.4C438.2,408.1 437.8,406.8 437.4,405.6C437.0,404.3 436.5,403.0 436.1,401.8C435.7,400.5 435.3,399.2 434.9,398.0C434.5,396.7 434.1,395.4 433.7,394.2C433.3,392.9 432.9,391.6 432.5,390.4C432.1,389.1 431.7,387.8 431.3,386.6C431.0,385.3 430.6,384.0 430.2,382.7C429.9,381.5 429.5,380.2 429.2,378.9C428.8,377.7 428.5,376.4 428.2,375.1C427.9,373.8 427.6,372.6 427.3,371.3C427.0,370.0 426.7,368.7 426.4,367.5C426.1,366.2 425.8,364.9 425.6,363.6C425.3,362.4 425.1,361.1 424.8,359.8C424.6,358.5 424.3,357.2 424.1,355.9C423.9,354.6 423.7,353.3 423.5,352.0C423.3,350.7 423.1,349.4 422.9,348.1C422.7,346.8 422.5,345.5 422.3,344.2C422.1,342.9 422.0,341.6 421.8,340.3C421.6,339.0 421.5,337.6 421.3,336.3C421.2,335.0 421.0,333.7 420.9,332.4C420.7,331.0 420.6,329.7 420.5,328.4C420.4,327.1 420.2,325.7 420.1,324.4C420.0,323.1 419.9,321.8 419.8,320.4C419.7,319.1 419.5,317.8 419.4,316.4C419.3,315.1 419.2,313.7 419.1,312.4C419.0,311.1 419.0,309.7 418.9,308.4C418.8,307.0 418.7,305.7 418.6,304.4C418.5,303.0 418.4,301.7 418.3,300.3C418.2,299.0 418.2,297.6 418.0,296.3C417.9,294.9 417.8,293.5 417.6,292.2C417.5,290.9 417.2,289.6 416.9,288.3C416.5,287.0 416.1,285.8 415.4,284.7C414.8,283.5 414.0,282.4 413.0,281.5C412.0,280.6 410.8,279.8 409.5,279.1C408.3,278.5 406.8,277.9 405.4,277.4C404.0,276.9 402.5,276.5 401.2,276.0C399.8,275.5 398.4,275.1 397.2,274.5C395.9,274.0 394.8,273.5 393.7,272.8C392.7,272.2 391.7,271.5 390.7,270.8C389.7,270.1 388.7,269.3 387.7,268.6C386.7,267.8 385.7,267.0 384.7,266.2C383.7,265.4 382.7,264.6 381.7,263.8C380.7,262.9 379.8,262.1 378.8,261.2C377.9,260.3 377.0,259.4 376.1,258.5C375.2,257.5 374.3,256.6 373.4,255.6C372.5,254.6 371.6,253.5 370.7,252.5C369.7,251.4 368.6,250.4 367.5,249.4C366.3,248.4 365.1,247.4 363.7,246.7C362.4,245.9 361.0,245.2 359.5,244.9C358.1,244.5 356.5,244.4 355.1,244.7C353.7,245.0 352.3,245.8 351.2,246.7C350.1,247.6 349.3,248.8 348.5,250.0C347.7,251.2 347.2,252.6 346.6,254.0C346.1,255.4 345.7,256.9 345.3,258.4C344.9,259.8 344.5,261.3 344.2,262.7C343.9,264.1 343.5,265.4 343.2,266.7C342.9,268.0 342.6,269.3 342.3,270.6C342.1,271.9 341.8,273.2 341.6,274.4C341.3,275.7 341.1,277.0 340.9,278.2C340.7,279.5 340.5,280.8 340.3,282.1C340.1,283.4 339.9,284.7 339.7,286.0C339.6,287.2 339.4,288.5 339.3,289.9C339.1,291.2 339.0,292.5 338.9,293.8C338.7,295.1 338.6,296.4 338.5,297.7C338.4,299.0 338.3,300.4 338.2,301.7C338.1,303.0 338.0,304.3 337.9,305.6C337.9,307.0 337.8,308.3 337.7,309.6C337.6,310.9 337.5,312.3 337.5,313.6C337.4,314.9 337.3,316.3 337.3,317.6C337.2,318.9 337.1,320.2 337.1,321.6C337.0,322.9 337.0,324.2 336.9,325.5C336.9,326.9 336.9,328.2 336.8,329.5C336.8,330.8 336.8,332.2 336.8,333.5C336.8,334.8 336.8,336.1 336.8,337.4C336.8,338.8 336.9,340.1 336.9,341.4C336.9,342.7 337.0,344.0 337.0,345.3C337.1,346.6 337.2,347.9 337.2,349.2C337.3,350.5 337.4,351.9 337.5,353.2C337.6,354.5 337.7,355.8 337.9,357.1C338.0,358.4 338.1,359.6 338.3,360.9C338.4,362.2 338.6,363.5 338.7,364.8C338.9,366.1 339.1,367.4 339.3,368.7C339.5,370.0 339.7,371.3 339.9,372.5C340.2,373.8 340.4,375.1 340.6,376.4C340.9,377.6 341.2,378.9 341.4,380.2C341.7,381.5 342.0,382.7 342.3,384.0C342.6,385.3 342.9,386.5 343.3,387.8C343.6,389.1 344.0,390.3 344.3,391.6C344.7,392.8 345.1,394.1 345.4,395.3C345.8,396.6 346.2,397.9 346.7,399.1C347.1,400.3 347.5,401.6 348.0,402.8C348.4,404.1 348.9,405.3 349.4,406.6C349.9,407.8 350.4,409.0 350.8,410.3C351.3,411.5 351.8,412.8 352.3,414.0C352.8,415.2 353.3,416.5 353.8,417.7C354.3,418.9 354.8,420.2 355.4,421.4C355.9,422.6 356.5,423.8 357.0,424.9C357.6,426.1 358.2,427.3 358.9,428.4C359.5,429.5 360.2,430.7 360.9,431.7C361.6,432.8 362.3,433.9 363.1,434.9C363.9,436.0 364.7,437.0 365.6,437.9C366.5,438.9 367.4,439.8 368.4,440.7C369.4,441.6 370.4,442.4 371.5,443.2C372.6,444.0 373.8,444.8 374.9,445.5C376.1,446.2 377.3,446.8 378.6,447.4C379.8,448.0 381.1,448.5 382.4,449.0C383.7,449.5 385.0,449.9 386.4,450.3C387.7,450.6 389.1,450.9 390.4,451.2C391.8,451.4 393.2,451.6 394.6,451.7C395.9,451.8 397.3,451.9 398.7,451.9C400.1,451.9 401.5,451.9 402.8,451.9C404.2,451.9 405.6,451.8 406.9,451.7C408.3,451.6 409.6,451.5 411.0,451.4C412.4,451.2 413.7,451.1 415.1,450.9C416.4,450.8 417.7,450.6 419.1,450.4C420.4,450.2 421.7,450.0 423.1,449.9C424.4,449.7 425.7,449.5 427.0,449.3C428.3,449.1 429.6,449.0 431.0,448.8C432.3,448.6 433.6,448.5 434.9,448.3C436.2,448.2 437.5,448.1 438.8,447.9C440.1,447.8 441.4,447.7 442.7,447.5C444.0,447.4 445.3,447.3 446.7,447.1C448.0,446.9 449.3,446.8 450.6,446.6C451.9,446.4 453.3,446.3 454.6,446.1C455.9,445.9 457.2,445.6 458.6,445.4C460.0,445.2 461.6,444.9 463.1,444.6C464.6,444.2 466.8,443.5 467.6,443.3"/>
<path d="M463.9,442.0C462.0,442.2 455.1,443.7 452.4,443.4C449.6,443.1 448.5,441.1 447.4,439.9C446.3,438.7 446.4,437.6 445.9,436.4C445.4,435.2 444.9,433.9 444.4,432.7C443.9,431.5 443.4,430.2 442.9,429.0C442.4,427.8 441.9,426.5 441.3,425.3C440.8,424.1 440.3,422.8 439.8,421.6C439.2,420.4 438.7,419.2 438.2,417.9C437.6,416.7 437.1,415.5 436.6,414.2C436.0,413.0 435.5,411.8 435.0,410.5C434.5,409.3 433.9,408.1 433.4,406.8C432.9,405.6 432.4,404.3 431.9,403.1C431.4,401.9 430.9,400.6 430.4,399.4C429.9,398.1 429.4,396.8 429.0,395.6C428.5,394.3 428.0,393.1 427.6,391.8C427.1,390.5 426.7,389.2 426.3,388.0C425.9,386.7 425.5,385.4 425.1,384.1C424.7,382.8 424.3,381.5 423.9,380.2C423.6,379.0 423.3,377.6 422.9,376.3C422.6,375.0 422.3,373.7 422.0,372.4C421.7,371.1 421.4,369.8 421.2,368.5C420.9,367.2 420.7,365.8 420.4,364.5C420.2,363.2 419.9,361.9 419.7,360.6C419.5,359.2 419.3,357.9 419.1,356.6C418.9,355.3 418.7,354.0 418.6,352.6C418.4,351.3 418.2,350.0 418.1,348.7C417.9,347.3 417.8,346.0 417.6,344.7C417.5,343.3 417.3,342.0 417.2,340.7C417.1,339.4 417.0,338.0 416.9,336.7C416.7,335.4 416.6,334.0 416.5,332.7C416.4,331.4 416.3,330.0 416.2,328.7C416.1,327.4 416.0,326.0 415.9,324.7C415.8,323.4 415.8,322.0 415.7,320.7C415.6,319.4 415.5,318.0 415.4,316.7C415.3,315.3 415.2,314.0 415.1,312.7C415.1,311.3 415.0,310.0 414.9,308.7C414.8,307.3 414.7,306.0 414.6,304.7C414.5,303.3 414.4,302.0 414.3,300.6C414.2,299.3 414.1,298.0 414.0,296.7C413.8,295.4 413.7,294.1 413.5,292.9C413.3,291.7 413.1,290.6 412.8,289.6C412.5,288.6 412.2,287.7 411.7,286.9C411.3,286.1 410.8,285.4 410.1,284.8C409.4,284.2 408.6,283.7 407.5,283.2C406.5,282.7 405.2,282.2 403.9,281.8C402.6,281.4 401.2,281.0 399.7,280.5C398.3,280.1 396.8,279.6 395.4,279.1C394.0,278.5 392.6,277.9 391.4,277.2C390.1,276.6 389.0,275.8 387.9,275.0C386.8,274.3 385.7,273.5 384.7,272.8C383.6,272.0 382.5,271.2 381.5,270.4C380.4,269.6 379.4,268.7 378.3,267.8C377.3,267.0 376.2,266.1 375.2,265.1C374.2,264.2 373.2,263.2 372.2,262.2C371.3,261.3 370.3,260.2 369.4,259.2C368.5,258.2 367.6,257.2 366.7,256.2C365.8,255.2 364.9,254.2 364.0,253.4C363.1,252.5 362.0,251.6 361.1,251.0C360.1,250.3 359.2,249.8 358.3,249.5C357.4,249.2 356.7,249.1 355.9,249.1C355.1,249.2 354.4,249.5 353.7,250.0C352.9,250.4 352.2,251.2 351.5,252.1C350.8,253.0 350.1,254.1 349.4,255.3C348.8,256.5 348.1,257.9 347.5,259.2C346.9,260.5 346.4,261.9 345.8,263.2C345.2,264.5 344.7,265.8 344.2,267.0C343.6,268.3 343.1,269.5 342.6,270.7C342.1,271.9 341.7,273.1 341.2,274.3C340.7,275.5 340.3,276.7 339.8,278.0C339.4,279.2 339.0,280.4 338.6,281.7C338.1,282.9 337.7,284.2 337.4,285.5C337.0,286.7 336.6,288.0 336.3,289.3C335.9,290.6 335.6,291.9 335.2,293.2C334.9,294.5 334.6,295.8 334.3,297.1C334.0,298.4 333.7,299.7 333.5,301.1C333.2,302.4 333.0,303.7 332.7,305.1C332.5,306.4 332.3,307.7 332.1,309.1C331.9,310.4 331.7,311.8 331.6,313.1C331.4,314.5 331.3,315.8 331.2,317.2C331.0,318.5 330.9,319.9 330.8,321.3C330.8,322.6 330.7,324.0 330.6,325.3C330.5,326.7 330.5,328.0 330.4,329.4C330.4,330.7 330.3,332.1 330.3,333.4C330.3,334.8 330.2,336.1 330.2,337.5C330.2,338.9 330.2,340.2 330.2,341.6C330.2,342.9 330.3,344.2 330.3,345.6C330.3,346.9 330.4,348.3 330.4,349.6C330.5,351.0 330.6,352.3 330.6,353.7C330.7,355.0 330.8,356.4 330.9,357.7C331.0,359.0 331.2,360.4 331.3,361.7C331.4,363.1 331.6,364.4 331.7,365.7C331.9,367.1 332.1,368.4 332.3,369.8C332.5,371.1 332.7,372.4 332.9,373.8C333.1,375.1 333.3,376.4 333.6,377.7C333.8,379.1 334.1,380.4 334.3,381.7C334.6,383.1 334.9,384.4 335.2,385.7C335.5,387.0 335.8,388.3 336.2,389.7C336.5,391.0 336.9,392.3 337.2,393.6C337.6,394.9 338.0,396.2 338.4,397.5C338.8,398.9 339.2,400.2 339.7,401.5C340.1,402.8 340.6,404.1 341.0,405.4C341.5,406.7 342.0,408.0 342.5,409.3C343.0,410.6 343.5,411.8 344.1,413.1C344.6,414.4 345.2,415.7 345.8,417.0C346.4,418.3 347.0,419.6 347.6,420.8C348.3,422.1 348.9,423.3 349.6,424.6C350.3,425.8 351.1,427.0 351.8,428.2C352.6,429.4 353.4,430.6 354.2,431.7C355.1,432.9 356.0,434.0 356.9,435.1C357.8,436.2 358.7,437.2 359.8,438.2C360.8,439.2 361.8,440.2 362.9,441.1C364.0,442.0 365.1,442.9 366.3,443.7C367.5,444.5 368.7,445.3 370.0,446.0C371.2,446.7 372.5,447.3 373.8,447.9C375.1,448.5 376.4,449.0 377.8,449.5C379.1,450.0 380.5,450.4 381.9,450.8C383.2,451.2 384.6,451.5 386.0,451.8C387.4,452.1 388.8,452.3 390.2,452.5C391.7,452.7 393.1,452.8 394.5,452.9C395.9,453.0 397.3,453.1 398.7,453.1C400.1,453.1 401.5,453.0 402.9,453.0C404.2,452.9 405.6,452.8 407.0,452.7C408.4,452.6 409.7,452.5 411.1,452.3C412.5,452.2 413.8,452.0 415.2,451.9C416.5,451.7 417.8,451.5 419.2,451.3C420.5,451.1 421.9,450.9 423.2,450.7C424.5,450.5 425.8,450.3 427.1,450.2C428.4,450.0 429.7,449.8 431.0,449.7C432.3,449.5 433.6,449.4 434.9,449.2C436.2,449.1 437.5,449.0 438.8,448.8C440.1,448.7 441.5,448.6 442.8,448.5C444.1,448.4 445.4,448.3 446.7,448.2C448.0,448.0 449.4,447.9 450.7,447.8C452.0,447.7 453.4,447.5 454.7,447.4C456.0,447.2 456.8,447.1 458.7,446.9C460.6,446.7 463.7,446.5 466.2,446.1C468.7,445.7 472.5,444.8 473.7,444.5"/>
<path d="M456.8,441.7C456.0,442.0 452.9,443.8 451.6,443.4C450.4,443.0 450.0,440.6 449.3,439.4C448.7,438.1 448.3,437.1 447.8,435.9C447.4,434.7 447.1,433.4 446.7,432.1C446.3,430.8 445.8,429.5 445.4,428.3C445.0,427.0 444.6,425.7 444.2,424.5C443.7,423.2 443.3,421.9 442.9,420.7C442.4,419.4 442.0,418.1 441.5,416.9C441.1,415.6 440.7,414.3 440.2,413.1C439.8,411.8 439.3,410.6 438.9,409.3C438.5,408.0 438.0,406.8 437.6,405.5C437.1,404.2 436.7,403.0 436.3,401.7C435.9,400.5 435.4,399.2 435.0,397.9C434.6,396.7 434.2,395.4 433.8,394.1C433.4,392.9 433.0,391.6 432.6,390.3C432.2,389.1 431.8,387.8 431.4,386.5C431.1,385.3 430.7,384.0 430.3,382.7C430.0,381.4 429.7,380.2 429.3,378.9C429.0,377.6 428.7,376.3 428.4,375.1C428.1,373.8 427.8,372.5 427.5,371.2C427.3,370.0 427.0,368.7 426.8,367.4C426.5,366.1 426.3,364.8 426.1,363.5C425.8,362.3 425.6,361.0 425.4,359.7C425.2,358.4 425.1,357.1 424.9,355.8C424.7,354.5 424.5,353.2 424.4,351.9C424.2,350.6 424.1,349.3 423.9,348.0C423.8,346.7 423.7,345.4 423.5,344.1C423.4,342.8 423.3,341.5 423.2,340.1C423.1,338.8 423.0,337.5 422.9,336.2C422.8,334.9 422.7,333.6 422.6,332.2C422.5,330.9 422.4,329.6 422.3,328.3C422.2,326.9 422.1,325.6 422.0,324.3C422.0,323.0 421.9,321.6 421.8,320.3C421.7,319.0 421.6,317.6 421.6,316.3C421.5,314.9 421.4,313.6 421.3,312.3C421.2,310.9 421.1,309.6 421.1,308.2C421.0,306.9 420.9,305.5 420.8,304.2C420.7,302.9 420.6,301.5 420.5,300.2C420.4,298.8 420.3,297.4 420.2,296.1C420.1,294.7 420.0,293.3 419.7,291.9C419.5,290.5 419.3,289.1 418.8,287.7C418.4,286.3 417.9,284.9 417.1,283.6C416.4,282.4 415.4,281.1 414.3,280.1C413.2,279.0 411.7,278.2 410.4,277.5C409.0,276.8 407.4,276.3 406.0,275.8C404.5,275.3 403.0,274.9 401.6,274.4C400.3,274.0 398.9,273.6 397.7,273.1C396.5,272.6 395.5,272.1 394.4,271.6C393.4,271.0 392.4,270.4 391.4,269.7C390.4,269.0 389.4,268.3 388.4,267.6C387.4,266.8 386.4,266.0 385.4,265.3C384.4,264.5 383.4,263.7 382.4,262.9C381.5,262.1 380.5,261.2 379.6,260.4C378.6,259.5 377.7,258.7 376.8,257.7C375.9,256.8 375.1,255.9 374.2,254.9C373.3,253.9 372.4,252.8 371.4,251.8C370.4,250.7 369.3,249.6 368.2,248.6C367.0,247.6 365.7,246.5 364.3,245.7C362.9,244.9 361.4,244.1 359.9,243.7C358.3,243.3 356.5,243.1 354.9,243.4C353.3,243.7 351.6,244.6 350.3,245.5C349.1,246.4 348.1,247.8 347.2,249.1C346.3,250.4 345.6,251.8 345.0,253.3C344.3,254.7 343.8,256.2 343.3,257.7C342.8,259.1 342.4,260.5 342.0,261.9C341.5,263.3 341.1,264.6 340.7,265.9C340.3,267.2 340.0,268.5 339.6,269.8C339.2,271.1 338.9,272.3 338.6,273.6C338.2,274.8 337.9,276.1 337.6,277.4C337.3,278.7 337.0,280.0 336.7,281.3C336.5,282.5 336.2,283.9 335.9,285.2C335.7,286.5 335.5,287.8 335.2,289.1C335.0,290.4 334.8,291.7 334.6,293.1C334.4,294.4 334.2,295.7 334.0,297.1C333.8,298.4 333.7,299.7 333.5,301.1C333.4,302.4 333.2,303.8 333.1,305.1C332.9,306.4 332.8,307.8 332.7,309.1C332.6,310.5 332.5,311.8 332.4,313.2C332.3,314.5 332.2,315.9 332.1,317.3C332.0,318.6 331.9,320.0 331.9,321.3C331.8,322.7 331.7,324.0 331.7,325.4C331.6,326.7 331.6,328.1 331.6,329.4C331.5,330.8 331.5,332.1 331.5,333.5C331.5,334.8 331.5,336.1 331.5,337.5C331.5,338.8 331.5,340.2 331.5,341.5C331.6,342.9 331.6,344.2 331.6,345.5C331.7,346.9 331.7,348.2 331.8,349.6C331.9,350.9 332.0,352.2 332.1,353.6C332.1,354.9 332.2,356.2 332.4,357.6C332.5,358.9 332.6,360.2 332.7,361.6C332.9,362.9 333.0,364.2 333.2,365.6C333.4,366.9 333.5,368.2 333.7,369.5C333.9,370.9 334.1,372.2 334.3,373.5C334.6,374.8 334.8,376.1 335.0,377.5C335.3,378.8 335.5,380.1 335.8,381.4C336.1,382.7 336.4,384.0 336.7,385.4C337.0,386.7 337.3,388.0 337.6,389.3C338.0,390.6 338.3,391.9 338.7,393.2C339.1,394.5 339.4,395.8 339.8,397.1C340.2,398.4 340.7,399.7 341.1,401.0C341.5,402.3 342.0,403.6 342.4,404.9C342.9,406.1 343.4,407.4 343.9,408.7C344.4,410.0 344.9,411.3 345.5,412.5C346.1,413.8 346.7,415.1 347.3,416.3C348.0,417.5 348.6,418.8 349.3,420.0C350.1,421.2 350.8,422.3 351.6,423.5C352.4,424.6 353.2,425.8 354.0,426.8C354.9,427.9 355.7,429.0 356.6,430.0C357.6,431.0 358.5,432.0 359.5,432.9C360.4,433.8 361.4,434.7 362.5,435.6C363.5,436.4 364.6,437.2 365.6,437.9C366.7,438.6 367.9,439.3 369.0,439.9C370.1,440.5 371.3,441.1 372.5,441.6C373.7,442.1 374.9,442.5 376.1,443.0C377.3,443.4 378.5,443.8 379.8,444.1C381.0,444.4 382.3,444.7 383.5,445.0C384.8,445.3 386.1,445.5 387.3,445.7C388.6,445.9 389.9,446.0 391.2,446.2C392.4,446.3 393.7,446.4 395.0,446.5C396.3,446.6 397.5,446.7 398.8,446.7C400.1,446.7 401.4,446.7 402.7,446.7C404.0,446.7 405.3,446.6 406.6,446.5C407.9,446.4 409.2,446.3 410.5,446.2C411.8,446.1 413.2,446.0 414.5,445.8C415.8,445.7 417.1,445.5 418.5,445.4C419.8,445.2 421.1,445.1 422.5,444.9C423.8,444.8 425.1,444.6 426.5,444.5C427.8,444.3 429.2,444.2 430.5,444.1C431.8,444.0 433.2,443.9 434.5,443.8C435.8,443.7 437.2,443.7 438.5,443.6C439.8,443.6 441.1,443.5 442.4,443.5C443.8,443.4 445.1,443.4 446.4,443.3C447.7,443.3 449.0,443.3 450.4,443.2C451.7,443.2 453.0,443.1 454.3,443.1C455.7,443.0 457.2,443.1 458.3,442.9C459.5,442.7 460.3,442.6 461.3,442.1C462.3,441.7 463.8,440.5 464.3,440.2"/>
<path d="M458.9,441.4C457.5,441.7 452.3,443.6 450.2,443.4C448.2,443.2 447.3,441.3 446.4,440.2C445.6,439.0 445.3,437.9 444.9,436.7C444.5,435.4 444.4,434.1 444.1,432.8C443.7,431.5 443.4,430.2 443.1,428.9C442.8,427.7 442.4,426.4 442.1,425.1C441.7,423.8 441.4,422.5 441.0,421.2C440.7,419.9 440.3,418.7 439.9,417.4C439.6,416.1 439.2,414.8 438.8,413.5C438.4,412.3 438.0,411.0 437.6,409.7C437.3,408.4 436.9,407.1 436.5,405.9C436.1,404.6 435.7,403.3 435.3,402.0C434.9,400.8 434.5,399.5 434.1,398.2C433.8,396.9 433.4,395.6 433.0,394.4C432.6,393.1 432.2,391.8 431.9,390.5C431.5,389.3 431.1,388.0 430.8,386.7C430.4,385.4 430.1,384.2 429.7,382.9C429.4,381.6 429.1,380.3 428.7,379.0C428.4,377.8 428.1,376.5 427.8,375.2C427.5,373.9 427.2,372.7 426.9,371.4C426.6,370.1 426.3,368.8 426.0,367.6C425.7,366.3 425.4,365.0 425.1,363.7C424.8,362.4 424.4,361.2 424.2,359.9C423.9,358.6 423.6,357.3 423.3,356.0C423.0,354.7 422.7,353.4 422.4,352.2C422.1,350.9 421.8,349.6 421.6,348.3C421.3,347.0 421.0,345.7 420.8,344.4C420.5,343.1 420.2,341.7 420.0,340.4C419.7,339.1 419.5,337.8 419.2,336.5C419.0,335.2 418.8,333.9 418.6,332.5C418.3,331.2 418.1,329.9 417.9,328.6C417.7,327.3 417.5,325.9 417.3,324.6C417.2,323.3 417.0,321.9 416.8,320.6C416.7,319.3 416.5,318.0 416.4,316.6C416.2,315.3 416.1,314.0 416.0,312.6C415.9,311.3 415.8,309.9 415.7,308.6C415.6,307.3 415.5,305.9 415.4,304.6C415.3,303.3 415.3,301.9 415.2,300.6C415.2,299.2 415.1,297.9 415.0,296.6C415.0,295.2 414.9,293.9 414.8,292.7C414.7,291.4 414.5,290.2 414.3,289.1C414.0,288.0 413.7,286.9 413.2,286.0C412.7,285.0 412.2,284.1 411.4,283.3C410.6,282.5 409.6,281.8 408.5,281.1C407.4,280.5 406.1,279.9 404.8,279.3C403.5,278.8 402.0,278.3 400.6,277.7C399.3,277.1 397.8,276.6 396.6,276.0C395.3,275.4 394.2,274.7 393.1,274.0C392.0,273.3 391.0,272.6 390.0,271.8C389.1,271.0 388.1,270.2 387.1,269.4C386.1,268.5 385.2,267.7 384.2,266.9C383.2,266.0 382.2,265.1 381.3,264.3C380.3,263.4 379.4,262.5 378.5,261.6C377.5,260.7 376.6,259.7 375.7,258.8C374.8,257.8 374.0,256.8 373.1,255.8C372.2,254.8 371.3,253.8 370.4,252.7C369.4,251.7 368.4,250.6 367.2,249.7C366.1,248.7 364.8,247.7 363.5,247.0C362.2,246.3 360.8,245.5 359.5,245.2C358.1,244.9 356.5,244.8 355.2,245.1C353.8,245.4 352.5,246.1 351.4,246.9C350.4,247.8 349.5,249.0 348.8,250.2C348.0,251.4 347.4,252.8 346.9,254.1C346.4,255.5 345.9,257.0 345.5,258.5C345.1,259.9 344.7,261.3 344.4,262.7C344.0,264.1 343.7,265.4 343.4,266.8C343.1,268.1 342.8,269.4 342.5,270.7C342.2,271.9 341.9,273.2 341.7,274.5C341.4,275.7 341.2,277.0 340.9,278.2C340.7,279.5 340.5,280.8 340.3,282.1C340.1,283.4 339.9,284.7 339.7,285.9C339.5,287.2 339.4,288.5 339.2,289.8C339.0,291.1 338.9,292.4 338.8,293.8C338.6,295.1 338.5,296.4 338.4,297.7C338.2,299.0 338.1,300.3 338.0,301.6C337.9,303.0 337.8,304.3 337.7,305.6C337.6,306.9 337.5,308.3 337.5,309.6C337.4,310.9 337.3,312.2 337.2,313.6C337.1,314.9 337.1,316.2 337.0,317.6C336.9,318.9 336.8,320.2 336.8,321.6C336.7,322.9 336.6,324.2 336.5,325.5C336.5,326.9 336.4,328.2 336.3,329.5C336.2,330.8 336.2,332.2 336.1,333.5C336.0,334.8 335.9,336.1 335.9,337.4C335.8,338.8 335.7,340.1 335.7,341.4C335.6,342.7 335.5,344.1 335.5,345.4C335.4,346.7 335.4,348.0 335.4,349.4C335.3,350.7 335.3,352.0 335.3,353.3C335.2,354.6 335.2,356.0 335.2,357.3C335.2,358.6 335.2,360.0 335.3,361.3C335.3,362.6 335.3,363.9 335.4,365.3C335.4,366.6 335.5,367.9 335.5,369.3C335.6,370.6 335.7,371.9 335.8,373.2C335.9,374.6 336.0,375.9 336.2,377.2C336.3,378.6 336.5,379.9 336.6,381.2C336.8,382.6 337.0,383.9 337.2,385.2C337.4,386.6 337.7,387.9 337.9,389.2C338.2,390.5 338.5,391.9 338.8,393.2C339.1,394.5 339.4,395.8 339.7,397.1C340.1,398.5 340.4,399.8 340.8,401.1C341.2,402.4 341.7,403.7 342.1,405.0C342.5,406.3 343.0,407.6 343.5,408.9C344.0,410.1 344.5,411.4 345.1,412.7C345.6,414.0 346.2,415.3 346.8,416.5C347.4,417.8 348.0,419.1 348.6,420.3C349.2,421.6 349.9,422.8 350.6,424.0C351.3,425.3 352.0,426.5 352.7,427.7C353.5,428.8 354.3,430.0 355.1,431.1C355.9,432.2 356.8,433.4 357.7,434.4C358.6,435.5 359.5,436.5 360.5,437.5C361.5,438.5 362.5,439.4 363.6,440.3C364.6,441.2 365.7,442.1 366.9,442.9C368.0,443.7 369.2,444.4 370.4,445.1C371.7,445.8 372.9,446.4 374.2,447.0C375.5,447.6 376.8,448.1 378.1,448.6C379.4,449.1 380.8,449.5 382.1,449.9C383.5,450.3 384.8,450.6 386.2,450.9C387.6,451.2 389.0,451.4 390.4,451.6C391.8,451.8 393.2,451.9 394.5,452.0C395.9,452.1 397.3,452.2 398.7,452.2C400.1,452.2 401.5,452.1 402.8,452.1C404.2,452.0 405.6,451.9 406.9,451.8C408.3,451.7 409.7,451.5 411.0,451.4C412.4,451.2 413.7,451.0 415.0,450.8C416.4,450.7 417.7,450.4 419.1,450.2C420.4,450.0 421.7,449.8 423.0,449.6C424.4,449.4 425.7,449.2 427.0,449.0C428.3,448.8 429.6,448.6 430.9,448.4C432.2,448.2 433.5,448.0 434.8,447.8C436.1,447.7 437.4,447.5 438.7,447.4C440.0,447.2 441.4,447.1 442.7,446.9C444.0,446.8 445.3,446.6 446.6,446.5C447.9,446.3 449.2,446.2 450.6,446.0C451.9,445.8 453.2,445.7 454.5,445.5C455.9,445.3 457.0,445.1 458.5,444.9C460.1,444.7 462.2,444.6 464.0,444.1C465.9,443.6 468.6,442.3 469.5,441.9"/>
</g>
<path d="M443.5,437.1L443.0,435.2L442.5,433.3L441.9,431.3L441.4,429.4L440.8,427.5L440.3,425.6L439.7,423.7L439.1,421.8L438.5,419.9L437.9,418.0L437.3,416.1L436.7,414.2L436.1,412.3L435.5,410.4L434.9,408.5L434.3,406.6L433.7,404.6L433.1,402.7L432.5,400.8L431.9,398.9L431.3,397.0L430.7,395.1L430.1,393.1L429.6,391.2L429.0,389.3L428.5,387.4L427.9,385.4L427.4,383.5L426.9,381.6L426.4,379.6L425.9,377.7L425.5,375.8L425.0,373.8L424.6,371.9L424.2,369.9L423.8,368.0L423.4,366.0L423.1,364.1L422.8,362.1L422.5,360.1L422.2,358.2L421.9,356.2L421.6,354.3L421.4,352.3L421.1,350.3L420.9,348.3L420.7,346.4L420.5,344.4L420.3,342.4L420.1,340.4L419.9,338.4L419.8,336.5L419.6,334.5L419.5,332.5L419.3,330.5L419.2,328.5L419.0,326.5L418.9,324.5L418.8,322.5L418.6,320.5L418.5,318.5L418.4,316.5L418.3,314.5L418.1,312.5L418.0,310.5L417.9,308.5L417.7,306.4L417.6,304.4L417.4,302.4L417.3,300.4L417.1,298.4L416.9,296.4L416.7,294.4L416.5,292.4L416.1,290.5L415.7,288.7L415.1,286.9L414.3,285.3L413.3,283.9L412.1,282.6L410.6,281.5L408.9,280.5L406.9,279.7L404.9,279.0L402.8,278.3L400.6,277.7L398.5,277.1L396.4,276.4L394.5,275.6L392.8,274.7L391.1,273.7L389.5,272.6L387.9,271.5L386.4,270.4L384.8,269.3L383.2,268.1L381.7,266.9L380.2,265.6L378.6,264.4L377.1,263.0L375.7,261.7L374.2,260.3L372.9,258.8L371.5,257.3L370.1,255.8L368.8,254.3L367.3,252.8L365.8,251.3L364.2,250.0L362.5,248.8L360.7,247.8L358.9,247.1L357.2,246.8L355.5,246.9L353.9,247.4L352.4,248.3L351.1,249.5L350.0,251.0L348.9,252.8L348.0,254.7L347.2,256.7L346.4,258.8L345.7,260.9L345.0,262.9L344.3,264.9L343.7,266.9L343.1,268.8L342.5,270.7L342.0,272.5L341.4,274.4L340.9,276.2L340.4,278.1L339.9,280.0L339.5,281.9L339.1,283.8L338.6,285.7L338.2,287.7L337.9,289.6L337.5,291.5L337.2,293.5L336.9,295.5L336.6,297.4L336.3,299.4L336.0,301.4L335.8,303.4L335.5,305.4L335.3,307.4L335.1,309.4L334.9,311.4L334.8,313.4L334.6,315.4L334.5,317.4L334.4,319.4L334.3,321.4L334.2,323.4L334.1,325.4L334.0,327.5L334.0,329.5L334.0,331.5L333.9,333.5L333.9,335.5L333.9,337.5L334.0,339.5L334.0,341.5L334.1,343.4L334.1,345.4L334.2,347.4L334.3,349.4L334.5,351.4L334.6,353.4L334.8,355.4L334.9,357.3L335.1,359.3L335.3,361.3L335.6,363.2L335.8,365.2L336.1,367.2L336.4,369.1L336.7,371.1L337.0,373.0L337.4,375.0L337.7,376.9L338.1,378.9L338.5,380.8L339.0,382.8L339.4,384.7L339.9,386.6L340.4,388.6L340.9,390.5L341.4,392.4L342.0,394.3L342.6,396.2L343.2,398.2L343.8,400.1L344.5,402.0L345.2,403.9L345.9,405.8L346.6,407.7L347.3,409.5L348.1,411.4L348.9,413.3L349.8,415.2L350.6,417.0L351.5,418.9L352.5,420.7L353.4,422.4L354.4,424.2L355.5,425.9L356.6,427.6L357.7,429.2L358.9,430.8L360.1,432.3L361.4,433.8L362.8,435.3L364.2,436.6L365.6,437.9L367.1,439.2L368.7,440.3L370.3,441.4L372.0,442.4L373.7,443.4L375.5,444.2L377.3,445.0L379.2,445.8L381.0,446.4L383.0,447.0L384.9,447.5L386.8,448.0L388.8,448.4L390.8,448.7L392.8,448.9L394.8,449.1L396.8,449.2L398.8,449.3L400.8,449.3L402.8,449.3L404.8,449.2L406.8,449.1L408.8,449.0L410.8,448.8L412.8,448.6L414.8,448.4L416.8,448.1L418.8,447.9L420.8,447.7L422.8,447.4L424.8,447.2L426.8,446.9L428.7,446.7L430.7,446.5L432.7,446.3L434.7,446.1L436.7,446.0L438.6,445.9L440.6,445.7L442.6,445.6L444.6,445.5L446.5,445.4L448.5,445.2L450.5,445.1L452.5,444.9L454.5,444.8L456.5,444.6L458.5,444.4L460.5,444.2" fill="none" stroke="#2d7a47" stroke-width="3.9" stroke-linecap="round" stroke-linejoin="round"/>
<path d="M446.3,442.6 L452,443.6 L460.8,444.2" fill="none" stroke="#2d7a47" stroke-width="5.2" stroke-linecap="round" stroke-linejoin="round"/>
<path d="M597.8,383.8L599.3,385.5L599.9,387.4L600.1,389.5L600.4,391.6L601.3,393.5L602.7,395.1L604.2,396.7L605.4,398.4L605.6,400.1L604.7,402.0L604.6,402.1L602.9,403.1L601.2,404.1L599.5,405.1L597.8,406.1L596.0,407.0L594.2,407.9L592.4,408.8L590.7,409.7L588.8,410.6L587.0,411.4L585.2,412.2L583.3,413.0L581.5,413.7L579.6,414.5L577.7,415.2L575.8,415.8L573.9,416.4L572.0,417.0L570.1,417.6L568.2,418.1L566.2,418.6L564.3,419.1L562.3,419.5L560.4,419.9L558.4,420.2L556.4,420.5L554.4,420.7L552.5,420.9L550.5,421.1L548.5,421.2L546.5,421.3L544.5,421.3L542.5,421.2L540.5,421.2L538.5,421.0L536.5,420.8L534.4,420.6L532.4,420.3L530.4,419.9L528.4,419.5L526.5,419.0L524.6,418.4L522.7,417.7L521.0,416.8L519.3,415.8L517.7,414.7L516.3,413.4L515.0,412.0L513.8,410.4L512.7,408.7L511.7,407.0L510.8,405.1L510.0,403.2L509.2,401.3L508.5,399.4L507.9,397.4L507.3,395.5L506.8,393.6L506.3,391.6L505.8,389.6L505.5,387.7L505.1,385.7L504.8,383.7L504.5,381.8L504.3,379.8L504.1,377.8L503.9,375.8L503.8,373.9L503.7,371.9L503.6,369.9L503.5,367.9L503.4,365.9L503.4,363.9L503.4,361.9L503.3,359.9L503.3,357.9L503.3,355.9L503.3,353.9L503.4,351.9L503.4,349.9L503.4,347.9L503.4,345.9L503.4,343.9L503.4,341.9L503.4,339.9L503.4,337.9L503.3,335.9L503.3,333.9L503.3,331.9L503.3,329.9L503.3,327.9L503.3,325.9L503.3,323.9L503.2,321.9L503.2,319.9L503.2,317.9L503.2,315.9L503.1,313.9L503.1,311.9L503.1,309.9L503.1,307.9L503.1,305.9L503.0,303.9L503.0,301.9L503.0,299.9L503.0,297.9L502.9,295.9L502.9,293.9L502.9,291.9L502.9,289.9L502.9,287.9L502.8,285.9L502.8,283.9L502.8,281.9L502.8,279.9L502.8,277.9L502.8,275.9L502.8,273.9L502.8,271.9L502.8,269.9L502.8,267.9L502.8,265.9L502.8,263.9L502.8,261.9L502.8,259.9L502.8,257.9L502.8,255.9L502.8,253.9L502.9,251.9L502.9,249.9L502.9,247.9L503.0,245.9L503.0,243.9L503.0,241.9L503.1,239.9L503.1,237.9L503.2,235.9L503.3,233.9L503.3,231.9L503.4,229.9L503.5,227.9L503.5,225.9L503.6,223.9L503.7,221.9L503.8,219.9L503.9,217.9L504.0,215.9L504.1,213.9L504.3,211.9L504.4,210.0L504.5,208.0L504.7,206.0L504.8,204.0L505.0,202.0L505.1,200.0L505.3,198.0L505.5,196.0L505.7,194.0L505.8,192.0L506.0,190.1L506.2,188.1L506.5,186.1L506.7,184.1L506.9,182.1L507.1,180.1L507.4,178.2L507.6,176.2L507.9,174.2L508.2,172.2L508.4,170.2L508.7,168.2L509.0,166.3L509.3,164.3L509.7,162.3L510.0,160.4L510.4,158.4L510.8,156.4L511.2,154.5L511.6,152.5L512.0,150.6L512.5,148.6L513.0,146.7L513.5,144.8L514.0,142.8L514.6,140.9L515.2,139.0L515.9,137.1L516.5,135.2L517.2,133.3L518.0,131.5L518.7,129.6L519.5,127.8L520.3,125.9L521.2,124.1L522.0,122.2L522.8,120.4L523.7,118.6L524.5,116.8L525.3,114.9L526.2,113.1L527.0,111.3L527.8,109.5L528.7,107.7L529.5,105.9L530.3,104.1L531.1,102.3L531.9,100.5L532.8,98.7L533.6,96.9L534.4,95.1L535.2,93.3L536.1,91.5L536.9,89.7L537.8,87.9L538.7,86.1L539.5,84.3L540.4,82.5L541.3,80.7L542.2,78.9L543.1,77.1L544.1,75.3L545.0,73.5L546.0,71.7L547.0,69.8L548.0,68.0L549.0,66.2L550.1,64.5L551.2,62.8L552.4,61.2L553.7,59.8L555.1,58.6L556.6,57.6L558.3,56.9L560.0,56.5L561.9,56.2L563.9,56.2L565.9,56.4L567.9,56.7L570.0,57.2L572.0,57.8L574.1,58.6L576.0,59.4L577.9,60.4L579.7,61.5L581.4,62.7L583.0,63.9L584.4,65.3L585.7,66.7L586.8,68.3L587.6,69.9L588.2,71.7L588.7,73.6L588.9,75.6L589.1,77.6L589.2,79.6L589.5,81.6L589.8,83.6L590.4,85.4L591.2,87.1L592.2,88.7L593.3,90.2L594.6,91.7L595.9,93.1L597.3,94.5L598.7,95.9L600.1,97.4L601.4,98.8L602.8,100.3L604.2,101.8L605.5,103.3L606.9,104.8L608.2,106.3L609.6,107.9L610.9,109.4L612.2,111.0L613.4,112.6L614.7,114.2L615.9,115.8L617.1,117.4L618.3,119.0L619.5,120.7L620.6,122.4L621.7,124.1L622.8,125.8L623.8,127.5L624.8,129.2L625.7,131.0L626.6,132.7L627.5,134.5L628.3,136.3L629.1,138.1L629.9,140.0L630.5,141.8L631.2,143.7L631.8,145.5L632.4,147.4L632.9,149.3L633.4,151.2L633.8,153.2L634.2,155.1L634.6,157.0L634.9,159.0L635.2,161.0L635.4,162.9L635.7,164.9L635.9,166.9L636.0,168.9L636.2,170.9L636.3,172.9L636.3,174.9L636.4,176.9L636.4,178.9L636.4,180.9L636.4,182.9L636.4,185.0L636.3,187.0L636.2,189.0L636.1,191.0L636.0,193.1L635.9,195.1L635.7,197.1L635.5,199.1L635.4,201.1L635.2,203.1L635.0,205.1L634.7,207.1L634.5,209.1L634.3,211.1L634.0,213.1L633.8,215.1L633.5,217.1L633.2,219.1L632.9,221.0L632.6,223.0L632.3,225.0L632.0,227.0L631.7,228.9L631.4,230.9L631.0,232.8L630.7,234.8L630.3,236.8L630.0,238.7L629.6,240.7L629.3,242.6L628.9,244.6L628.5,246.6L628.2,248.5L627.8,250.5L627.4,252.4L627.1,254.4L626.7,256.3L626.3,258.3L625.9,260.2L625.5,262.2L625.2,264.1L624.8,266.1L624.4,268.0L624.0,270.0L623.7,272.0L623.3,273.9L622.9,275.9L622.5,277.8L622.2,279.8L621.8,281.8L621.4,283.7L621.1,285.7L620.7,287.7L620.3,289.6L620.0,291.6L619.6,293.6L619.3,295.5L618.9,297.5L618.6,299.5L618.2,301.5L617.9,303.4L617.5,305.4L617.2,307.4L616.8,309.3L616.5,311.3L616.1,313.3L615.8,315.3L615.4,317.2L615.1,319.2L614.8,321.2L614.4,323.2L614.1,325.1L613.8,327.1L613.4,329.1L613.1,331.1L612.8,333.1L612.4,335.0L612.1,337.0L611.8,339.0L611.5,341.0L611.1,342.9L610.8,344.9L610.5,346.9L610.2,348.9L609.8,350.8L609.5,352.8L609.2,354.8L608.9,356.7L608.6,358.7L608.3,360.7L608.0,362.7L607.6,364.6L607.3,366.6L607.0,368.6L606.7,370.5L606.4,372.5L606.1,374.5L605.8,376.4L605.5,378.4" fill="none" stroke="#264a95" stroke-width="3.8" stroke-linecap="round" stroke-linejoin="round"/>
<circle cx="598.2" cy="384.4" r="2.4" fill="#264a95"/>
<g stroke="#111" stroke-width="1.5" fill="none" stroke-linecap="butt">
<path d="M79.50,10.75 V481.30 H662.8"/>
<path d="M70.20,472.00 H79.50"/>
<path d="M70.20,356.85 H79.50"/>
<path d="M70.20,241.70 H79.50"/>
<path d="M70.20,126.55 H79.50"/>
<path d="M70.20,11.40 H79.50"/>
<path d="M74.80,414.43 H79.50"/>
<path d="M74.80,299.27 H79.50"/>
<path d="M74.80,184.12 H79.50"/>
<path d="M74.80,68.98 H79.50"/>
<path d="M88.20,481.30 V490.60"/>
<path d="M176.50,481.30 V490.60"/>
<path d="M264.80,481.30 V490.60"/>
<path d="M353.10,481.30 V490.60"/>
<path d="M441.40,481.30 V490.60"/>
<path d="M529.70,481.30 V490.60"/>
<path d="M618.00,481.30 V490.60"/>
<path d="M132.35,481.30 V486.00"/>
<path d="M220.65,481.30 V486.00"/>
<path d="M308.95,481.30 V486.00"/>
<path d="M397.25,481.30 V486.00"/>
<path d="M485.55,481.30 V486.00"/>
<path d="M573.85,481.30 V486.00"/>
<path d="M662.15,481.30 V486.00"/>
</g>
<g font-family="'Liberation Sans', Arial, sans-serif" font-size="20" fill="#111" stroke="#111" stroke-width="0.25">
<text x="64.3" y="477.8" text-anchor="end">0</text>
<text x="64.3" y="362.7" text-anchor="end">25</text>
<text x="64.3" y="247.5" text-anchor="end">50</text>
<text x="64.3" y="132.4" text-anchor="end">75</text>
<text x="64.3" y="17.2" text-anchor="end">100</text>
<text x="88.2" y="512.3" text-anchor="middle">0</text>
<text x="176.5" y="512.3" text-anchor="middle">50</text>
<text x="264.8" y="512.3" text-anchor="middle">100</text>
<text x="353.1" y="512.3" text-anchor="middle">150</text>
<text x="441.4" y="512.3" text-anchor="middle">200</text>
<text x="529.7" y="512.3" text-anchor="middle">250</text>
<text x="618.0" y="512.3" text-anchor="middle">300</text>
</g>
<path d="M93.1,18.7 H128.2" stroke="#2f4ea6" stroke-width="2.7" stroke-linecap="round"/>
<path d="M93.1,37.8 H128.2" stroke="#2f7d48" stroke-width="2.7" stroke-linecap="round"/>
<g font-family="'Liberation Sans', Arial, sans-serif" font-size="15.8" fill="#111" stroke="#111" stroke-width="0.2">
<text x="132" y="23.5">Systemic Right Ventricle</text>
<text x="132" y="42.5">Subpulmonic Left Ventricle</text>
</g>
<g font-family="'Liberation Sans', Arial, sans-serif" font-size="24.6" font-weight="bold" fill="#111">
<text y="550.5"><tspan x="229.6" letter-spacing="0.55">Ventricular</tspan> <tspan x="365.0">Volume</tspan> <tspan x="458.6">(mL)</tspan></text>
<text transform="translate(20.9,247.3) rotate(-90)" text-anchor="middle">Ventricular Pressure (mmHg)</text>
</g>
</svg>
</body></html>
